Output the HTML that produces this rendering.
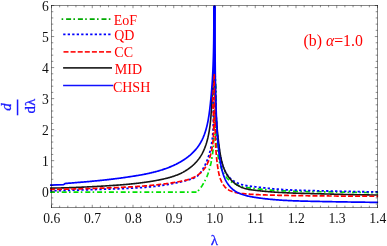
<!DOCTYPE html>
<html><head><meta charset="utf-8"><title>plot</title>
<style>
html,body{margin:0;padding:0;background:#fff;}
svg{display:block;will-change:transform;font-family:"Liberation Serif",serif;}
</style></head><body>
<svg width="387" height="246" viewBox="0 0 387 246">
<rect x="0" y="0" width="387" height="246" fill="#fff"/>
<defs><clipPath id="c"><rect x="49.9" y="5.50" width="328.2" height="202.00"/></clipPath></defs>
<g clip-path="url(#c)" stroke-linejoin="round">
<path d="M49.90 192.10 L196.60 192.10 L196.80 192.34 L197.03 192.11 L197.25 191.87 L197.47 191.63 L197.68 191.39 L197.90 191.15 L198.11 190.91 L198.32 190.67 L198.53 190.43 L198.74 190.18 L198.94 189.94 L199.14 189.69 L199.34 189.45 L199.54 189.20 L199.74 188.95 L199.93 188.70 L200.13 188.45 L200.32 188.20 L200.51 187.95 L200.69 187.69 L200.88 187.44 L201.06 187.18 L201.24 186.93 L201.42 186.67 L201.60 186.41 L201.77 186.16 L201.95 185.90 L202.12 185.64 L202.29 185.38 L202.46 185.11 L202.62 184.85 L202.79 184.59 L202.95 184.32 L203.11 184.06 L203.27 183.79 L203.43 183.53 L203.59 183.26 L203.74 182.99 L203.89 182.72 L204.04 182.45 L204.19 182.18 L204.34 181.91 L204.49 181.64 L204.63 181.37 L204.77 181.10 L204.91 180.82 L205.05 180.55 L205.19 180.27 L205.33 180.00 L205.46 179.72 L205.59 179.45 L205.72 179.17 L205.85 178.89 L205.98 178.61 L206.11 178.33 L206.24 178.05 L206.36 177.77 L206.48 177.49 L206.60 177.21 L206.72 176.92 L206.84 176.64 L206.96 176.36 L207.07 176.07 L207.19 175.79 L207.30 175.50 L207.41 175.22 L207.52 174.93 L207.63 174.64 L207.74 174.36 L207.84 174.07 L207.95 173.78 L208.05 173.49 L208.15 173.20 L208.25 172.91 L208.35 172.62 L208.45 172.33 L208.55 172.04 L208.64 171.75 L208.74 171.45 L208.83 171.16 L208.92 170.87 L209.01 170.57 L209.10 170.28 L209.19 169.99 L209.28 169.69 L209.36 169.40 L209.45 169.10 L209.53 168.80 L209.62 168.51 L209.70 168.21 L209.78 167.91 L209.86 167.62 L209.94 167.32 L210.02 167.02 L210.09 166.72 L210.17 166.42 L210.24 166.13 L210.32 165.83 L210.39 165.53 L210.46 165.23 L210.53 164.93 L210.60 164.63 L210.67 164.32 L210.74 164.02 L210.81 163.72 L210.87 163.42 L210.94 163.12 L211.00 162.82 L211.07 162.51 L211.13 162.21 L211.19 161.91 L211.25 161.61 L211.31 161.30 L211.37 161.00 L211.43 160.70 L211.49 160.39 L211.55 160.09 L211.60 159.78 L211.66 159.48 L211.71 159.18 L211.77 158.87 L211.82 158.57 L211.87 158.26 L211.92 157.95 L211.97 157.65 L212.02 157.34 L212.07 157.04 L212.12 156.73 L212.17 156.42 L212.22 156.12 L212.26 155.81 L212.31 155.50 L212.35 155.20 L212.40 154.89 L212.44 154.58 L212.48 154.27 L212.52 153.97 L212.56 153.66 L212.60 153.35 L212.64 153.04 L212.68 152.73 L212.72 152.42 L212.76 152.11 L212.80 151.80 L212.83 151.50 L212.87 151.19 L212.90 150.88 L212.94 150.57 L212.97 150.26 L213.00 149.95 L213.04 149.64 L213.07 149.33 L213.10 149.01 L213.13 148.70 L213.16 148.39 L213.19 148.08 L213.22 147.77 L213.25 147.46 L213.27 147.15 L213.30 146.84 L213.33 146.52 L213.35 146.21 L213.38 145.90 L213.40 145.59 L213.43 145.28 L213.45 144.96 L213.47 144.65 L213.50 144.34 L213.52 144.03 L213.54 143.71 L213.56 143.40 L213.58 143.09 L213.60 142.77 L213.62 142.46 L213.64 142.15 L213.65 141.83 L213.67 141.52 L213.69 141.20 L213.71 140.89 L213.72 140.58 L213.74 140.26 L213.75 139.95 L213.77 139.63 L213.78 139.32 L213.79 139.00 L213.81 138.69 L213.82 138.37 L213.83 138.06 L213.84 137.74 L213.86 137.43 L213.87 137.11 L213.88 136.80 L213.89 136.48 L213.90 136.17 L213.91 135.85 L213.91 135.54 L213.92 135.22 L213.93 134.91 L213.94 134.59 L213.95 134.27 L213.95 133.96 L213.96 133.64 L213.97 133.33 L213.97 133.01 L213.98 132.69 L213.98 132.38 L213.99 132.06 L213.99 131.74 L213.99 131.43 L214.00 131.11 L214.00 130.80 L214.00 130.48 L214.01 130.16 L214.01 129.85 L214.01 129.53 L214.01 129.21 L214.01 128.90 L214.02 128.58 L214.02 128.26 L214.02 127.94 L214.02 127.63 L214.02 127.31 L214.02 126.99 L214.02 126.68 L214.02 126.36 L214.01 126.04 L214.01 125.73 L214.01 125.41 L214.01 125.09 L214.01 124.77 L214.00 124.46 L214.00 124.14 L214.00 123.82 L214.00 123.50 L213.99 123.19 L213.99 122.87 L213.99 122.55 L213.98 122.24 L213.98 121.92 L213.97 121.60 L213.97 121.28 L213.97 120.97 L213.96 120.65 L213.96 120.33 L213.95 120.01 L213.95 119.70 L213.94 119.38 L213.93 119.06 L213.93 118.75 L213.92 118.43 L213.92 118.11 L213.91 117.79 L213.90 117.48 L213.90 117.16 L213.89 116.84 L213.89 116.53 L213.88 116.21 L213.87 115.89 L213.87 115.58 L213.86 115.26 L213.85 114.94 L213.84 114.62 L213.84 114.31 L213.83 113.99 L213.82 113.67 L213.82 113.36 L213.81 113.04 L213.80 112.72 L213.79 112.41 L213.79 112.09 L213.78 111.77 L213.77 111.46 L213.76 111.14 L213.76 110.83 L213.75 110.51 L213.74 110.19 L213.73 109.88 L213.73 109.56 L213.72 109.24 L213.71 108.93 L213.70 108.61 L213.70 108.30 L213.69 107.98 L213.68 107.67 L213.67 107.35 L213.67 107.04 L213.66 106.72 L213.65 106.40 L213.64 106.09 L213.64 105.77 L213.63 105.46 L213.62 105.14 L213.62 104.83 L213.61 104.51 L213.60 104.20 L213.60 103.89 L213.59 103.57 L213.58 103.26 L213.58 102.94 L213.57 102.63 L213.57 102.31 L213.56 102.00 L213.55 101.69 L213.55 101.37 L213.54 101.06 L213.54 100.75 L213.53 100.43 L213.53 100.12 L213.52 99.81 L213.52 99.49 L213.51 99.18 L213.51 98.87 L213.51 98.55 L213.50 98.24 L213.50 97.93 L213.49 97.62 L213.49 97.30 L213.49 96.99 L213.49 96.68 L213.48 96.37 L213.48 96.06 L213.48 95.75 L213.48 95.43 L213.47 95.12 L213.47 94.81 L213.47 94.50 L213.47 94.19 L213.47 93.88 L213.47 93.57 L213.47 93.26 L213.47 92.95 L213.47 92.64 L213.47 92.33 L213.47 92.02 L213.47 91.71 L213.47 91.40 L213.48 91.09 L213.48 90.78 L213.48 90.47 L213.48 90.17 L213.49 89.86 L213.49 89.55 L213.49 89.24 L213.50 88.93 L213.50 88.63 L213.51 88.32 L213.51 88.01 L213.52 87.70 L213.52 87.40 L213.53 87.09 L213.54 86.78 L213.54 86.48 L213.55 86.17 L213.56 85.87 L213.57 85.56 L213.58 85.25 L213.59 84.95 L213.60 84.64 L213.61 84.34 L213.62 84.03 L213.63 83.73 L213.64 83.42 L213.65 83.12 L213.66 82.82 L213.67 82.51 L213.69 82.21 L213.70 81.91 L213.71 81.60 L213.73 81.30 L213.74 81.00 L213.76 80.70 L213.78 80.39 L213.79 80.09 L213.81 79.79 L213.83 79.49 L213.84 79.19 L213.86 78.89 L213.88 78.59 L213.90 78.28 L213.92 77.98 L213.94 77.68 L213.96 77.38 L213.98 77.09 L214.01 76.79 L214.03 76.49 L214.05 76.19 L214.08 75.89 L214.10 75.59 L214.12 75.29 L214.15 75.00 L214.18 74.70 L214.20 74.40 L214.23 74.10 L214.26 73.81 L214.29 73.51 L214.32 73.21 L214.34 72.92 L214.37 72.62 L214.41 72.33 L214.44 72.03" fill="none" stroke="#00e000" stroke-width="1.7" stroke-dasharray="5 2.3 1.6 2.9"/>
<path d="M214.73 72.02 L214.81 72.68 L214.89 73.35 L214.96 74.02 L215.03 74.68 L215.10 75.35 L215.17 76.01 L215.23 76.67 L215.29 77.34 L215.35 78.00 L215.41 78.66 L215.46 79.33 L215.51 79.99 L215.56 80.65 L215.60 81.31 L215.65 81.97 L215.69 82.64 L215.72 83.30 L215.76 83.96 L215.79 84.62 L215.82 85.28 L215.85 85.94 L215.88 86.60 L215.90 87.26 L215.93 87.92 L215.95 88.58 L215.97 89.23 L215.99 89.89 L216.00 90.55 L216.02 91.21 L216.03 91.87 L216.04 92.52 L216.05 93.18 L216.06 93.84 L216.07 94.50 L216.07 95.15 L216.08 95.81 L216.08 96.47 L216.08 97.12 L216.08 97.78 L216.08 98.44 L216.08 99.09 L216.08 99.75 L216.07 100.41 L216.07 101.06 L216.06 101.72 L216.06 102.37 L216.05 103.03 L216.05 103.69 L216.04 104.34 L216.03 105.00 L216.02 105.65 L216.01 106.31 L216.00 106.96 L215.99 107.62 L215.98 108.28 L215.97 108.93 L215.96 109.59 L215.95 110.24 L215.94 110.90 L215.93 111.55 L215.92 112.21 L215.91 112.86 L215.90 113.52 L215.89 114.18 L215.88 114.83 L215.87 115.49 L215.87 116.14 L215.86 116.80 L215.85 117.46 L215.84 118.11 L215.84 118.77 L215.83 119.42 L215.83 120.08 L215.82 120.74 L215.82 121.39 L215.82 122.05 L215.81 122.71 L215.81 123.36 L215.81 124.02 L215.82 124.68 L215.82 125.34 L215.82 125.99 L215.83 126.65 L215.83 127.31 L215.84 127.97 L215.85 128.63 L215.86 129.28 L215.88 129.94 L215.89 130.60 L215.90 131.26 L215.92 131.92 L215.94 132.58 L215.96 133.24 L215.99 133.90 L216.01 134.56 L216.04 135.22 L216.07 135.88 L216.10 136.54 L216.13 137.21 L216.16 137.87 L216.20 138.53 L216.24 139.19 L216.28 139.86 L216.33 140.52 L216.37 141.18 L216.42 141.85 L216.48 142.51 L216.53 143.17 L216.59 143.84 L216.65 144.50 L216.71 145.17 L216.78 145.84 L216.85 146.50 L216.92 147.17 L216.99 147.84 L217.07 148.50 L217.15 149.17 L217.23 149.84 L217.32 150.51 L217.41 151.18 L217.51 151.85 L217.60 152.52 L217.70 153.19 L217.81 153.86 L217.92 154.53 L218.03 155.20 L218.14 155.87 L218.26 156.55 L218.38 157.22 L218.51 157.89 L218.64 158.56 L218.78 159.23 L218.92 159.90 L219.07 160.56 L219.22 161.23 L219.38 161.89 L219.55 162.55 L219.72 163.21 L219.90 163.86 L220.08 164.51 L220.27 165.15 L220.47 165.80 L220.68 166.43 L220.89 167.06 L221.11 167.69 L221.35 168.31 L221.58 168.93 L221.83 169.53 L222.09 170.14 L222.35 170.73 L222.63 171.32 L222.91 171.90 L223.21 172.47 L223.51 173.04 L223.83 173.60 L224.15 174.14 L224.49 174.68 L224.84 175.21 L225.20 175.73 L225.57 176.24 L225.95 176.74 L226.34 177.23 L226.75 177.71 L227.17 178.18 L227.60 178.63 L228.04 179.08 L228.49 179.51 L228.95 179.94 L229.42 180.35 L229.91 180.75 L230.40 181.13 L230.91 181.51 L231.42 181.87 L231.94 182.23 L232.48 182.57 L233.02 182.89 L233.57 183.21 L234.13 183.51 L234.70 183.80 L235.27 184.08 L235.86 184.35 L236.45 184.61 L237.04 184.86 L237.65 185.10 L238.25 185.32 L238.87 185.54 L239.49 185.75 L240.11 185.94 L240.74 186.13 L241.37 186.31 L242.01 186.48 L242.64 186.64 L243.28 186.80 L243.93 186.94 L244.57 187.08 L245.22 187.21 L245.87 187.34 L246.52 187.46 L247.18 187.57 L247.83 187.67 L248.49 187.78 L249.15 187.87 L249.80 187.96 L250.46 188.05 L251.12 188.14 L251.78 188.22 L252.45 188.30 L253.11 188.37 L253.77 188.45 L254.43 188.52 L255.09 188.59 L255.75 188.66 L256.41 188.73 L257.07 188.80 L257.73 188.87 L258.39 188.93 L259.05 189.00 L259.71 189.07 L260.37 189.14 L261.02 189.20 L261.68 189.27 L262.34 189.33 L263.00 189.40 L263.65 189.46 L264.31 189.52 L264.96 189.59 L265.62 189.65 L266.28 189.70 L266.93 189.76 L267.59 189.82 L268.25 189.88 L268.90 189.93 L269.56 189.98 L270.22 190.04 L270.87 190.09 L271.53 190.14 L272.19 190.19 L272.84 190.23 L273.50 190.28 L274.16 190.32 L274.82 190.37 L275.47 190.41 L276.13 190.45 L276.79 190.49 L277.45 190.53 L278.11 190.57 L278.76 190.61 L279.42 190.65 L280.08 190.68 L280.74 190.72 L281.40 190.75 L282.06 190.79 L282.71 190.82 L283.37 190.85 L284.03 190.88 L284.69 190.91 L285.35 190.94 L286.01 190.97 L286.67 190.99 L287.33 191.02 L287.99 191.04 L288.65 191.07 L289.31 191.09 L289.97 191.12 L290.63 191.14 L291.29 191.16 L291.95 191.18 L292.61 191.20 L293.27 191.22 L293.93 191.24 L294.59 191.26 L295.25 191.28 L295.91 191.30 L296.57 191.32 L297.23 191.33 L297.89 191.35 L298.55 191.37 L299.21 191.38 L299.87 191.40 L300.53 191.41 L301.19 191.42 L301.85 191.44 L302.51 191.45 L303.17 191.47 L303.83 191.48 L304.49 191.49 L305.15 191.50 L305.81 191.52 L306.47 191.53 L307.13 191.54 L307.79 191.55 L308.45 191.56 L309.11 191.57 L309.77 191.58 L310.44 191.59 L311.10 191.60 L311.76 191.61 L312.42 191.62 L313.08 191.63 L313.74 191.64 L314.40 191.65 L315.06 191.66 L315.72 191.68 L316.38 191.69 L317.04 191.70 L317.70 191.71 L318.36 191.72 L319.02 191.73 L319.68 191.74 L320.34 191.75 L321.00 191.76 L321.67 191.77 L322.33 191.78 L322.99 191.79 L323.65 191.80 L324.31 191.81 L324.97 191.83 L325.63 191.84 L326.29 191.85 L326.95 191.86 L327.61 191.87 L328.27 191.88 L328.93 191.90 L329.59 191.91 L330.25 191.92 L330.91 191.93 L331.57 191.94 L332.23 191.96 L332.89 191.97 L333.55 191.98 L334.21 191.99 L334.87 192.00 L335.53 192.02 L336.19 192.03 L336.85 192.04 L337.51 192.05 L338.17 192.07 L338.83 192.08 L339.49 192.09 L340.15 192.10 L340.81 192.12 L341.47 192.13 L342.13 192.14 L342.79 192.15 L343.45 192.16 L344.11 192.18 L344.77 192.19 L345.43 192.20 L346.09 192.21 L346.75 192.22 L347.41 192.23 L348.07 192.25 L348.73 192.26 L349.39 192.27 L350.05 192.28 L350.71 192.29 L351.37 192.30 L352.03 192.31 L352.69 192.32 L353.35 192.33 L354.01 192.35 L354.67 192.36 L355.33 192.37 L355.99 192.38 L356.65 192.39 L357.31 192.40 L357.97 192.41 L358.63 192.41 L359.29 192.42 L359.95 192.43 L360.61 192.44 L361.27 192.45 L361.93 192.46 L362.59 192.47 L363.25 192.48 L363.91 192.48 L364.57 192.49 L365.23 192.50 L365.89 192.51 L366.55 192.51 L367.21 192.52 L367.87 192.53 L368.53 192.53 L369.19 192.54 L369.85 192.54 L370.51 192.55 L371.17 192.55 L371.83 192.56 L372.50 192.56 L373.16 192.57 L373.82 192.57 L374.48 192.58 L375.14 192.58 L375.80 192.58 L376.46 192.58 L377.12 192.59 L377.78 192.59 L378.44 192.59 L379.10 192.59" fill="none" stroke="#00e000" stroke-width="1.7" stroke-dasharray="5 2.3 1.6 2.9"/>
<path d="M49.89 190.67 L50.54 190.66 L51.18 190.66 L51.83 190.65 L52.47 190.64 L53.12 190.63 L53.76 190.62 L54.41 190.61 L55.05 190.60 L55.70 190.59 L56.34 190.58 L56.98 190.57 L57.63 190.56 L58.27 190.55 L58.92 190.54 L59.56 190.53 L60.21 190.51 L60.85 190.50 L61.49 190.49 L62.14 190.47 L62.78 190.46 L63.43 190.45 L64.07 190.43 L64.71 190.42 L65.36 190.40 L66.00 190.39 L66.64 190.37 L67.29 190.35 L67.93 190.34 L68.57 190.32 L69.22 190.31 L69.86 190.29 L70.50 190.27 L71.15 190.25 L71.79 190.24 L72.43 190.22 L73.08 190.20 L73.72 190.18 L74.36 190.16 L75.01 190.15 L75.65 190.13 L76.29 190.11 L76.94 190.09 L77.58 190.07 L78.22 190.05 L78.87 190.03 L79.51 190.01 L80.15 189.99 L80.80 189.97 L81.44 189.95 L82.08 189.93 L82.72 189.91 L83.37 189.89 L84.01 189.87 L84.65 189.85 L85.30 189.83 L85.94 189.81 L86.58 189.79 L87.23 189.76 L87.87 189.74 L88.51 189.72 L89.15 189.70 L89.80 189.68 L90.44 189.66 L91.08 189.64 L91.73 189.61 L92.37 189.59 L93.01 189.57 L93.66 189.55 L94.30 189.53 L94.94 189.51 L95.59 189.49 L96.23 189.46 L96.87 189.44 L97.51 189.42 L98.16 189.40 L98.80 189.38 L99.44 189.36 L100.09 189.34 L100.73 189.31 L101.37 189.29 L102.02 189.27 L102.66 189.25 L103.31 189.23 L103.95 189.21 L104.59 189.19 L105.24 189.17 L105.88 189.15 L106.52 189.13 L107.17 189.11 L107.81 189.09 L108.46 189.07 L109.10 189.04 L109.74 189.02 L110.39 189.00 L111.03 188.98 L111.68 188.96 L112.32 188.94 L112.96 188.92 L113.61 188.90 L114.25 188.88 L114.90 188.86 L115.54 188.84 L116.19 188.82 L116.83 188.80 L117.47 188.77 L118.12 188.75 L118.76 188.73 L119.41 188.71 L120.05 188.68 L120.69 188.66 L121.34 188.64 L121.98 188.61 L122.63 188.59 L123.27 188.56 L123.91 188.54 L124.56 188.51 L125.20 188.48 L125.85 188.46 L126.49 188.43 L127.13 188.40 L127.78 188.37 L128.42 188.34 L129.06 188.31 L129.71 188.28 L130.35 188.25 L131.00 188.22 L131.64 188.19 L132.28 188.15 L132.92 188.12 L133.57 188.08 L134.21 188.05 L134.85 188.01 L135.50 187.97 L136.14 187.94 L136.78 187.90 L137.42 187.86 L138.07 187.81 L138.71 187.77 L139.35 187.73 L139.99 187.69 L140.64 187.64 L141.28 187.59 L141.92 187.55 L142.56 187.50 L143.20 187.45 L143.84 187.40 L144.49 187.35 L145.13 187.29 L145.77 187.24 L146.41 187.18 L147.05 187.13 L147.69 187.07 L148.33 187.01 L148.97 186.95 L149.61 186.89 L150.25 186.83 L150.89 186.76 L151.53 186.70 L152.17 186.63 L152.81 186.56 L153.45 186.49 L154.09 186.42 L154.73 186.35 L155.37 186.27 L156.00 186.20 L156.64 186.12 L157.28 186.04 L157.92 185.96 L158.56 185.88 L159.19 185.79 L159.83 185.71 L160.47 185.62 L161.10 185.53 L161.74 185.44 L162.38 185.35 L163.01 185.25 L163.65 185.15 L164.29 185.06 L164.92 184.96 L165.56 184.86 L166.19 184.75 L166.83 184.65 L167.46 184.54 L168.10 184.43 L168.73 184.32 L169.36 184.21 L170.00 184.09 L170.63 183.97 L171.26 183.86 L171.90 183.74 L172.53 183.61 L173.16 183.49 L173.79 183.37 L174.42 183.24 L175.06 183.11 L175.69 182.98 L176.32 182.85 L176.95 182.71 L177.58 182.58 L178.21 182.44 L178.84 182.30 L179.47 182.16 L180.09 182.02 L180.72 181.88 L181.35 181.73 L181.98 181.58 L182.60 181.43 L183.23 181.28 L183.85 181.12 L184.48 180.96 L185.10 180.80 L185.73 180.63 L186.35 180.46 L186.97 180.29 L187.60 180.12 L188.22 179.94 L188.84 179.76 L189.46 179.57 L190.07 179.38 L190.69 179.18 L191.30 178.98 L191.91 178.76 L192.51 178.54 L193.11 178.30 L193.69 178.06 L194.27 177.80 L194.84 177.52 L195.40 177.23 L195.94 176.92 L196.47 176.59 L196.99 176.24 L197.49 175.87 L197.97 175.48 L198.44 175.06 L198.89 174.63 L199.32 174.17 L199.74 173.69 L200.15 173.20 L200.54 172.69 L200.92 172.17 L201.29 171.64 L201.65 171.09 L202.00 170.55 L202.35 170.00 L202.68 169.44 L203.01 168.88 L203.34 168.32 L203.65 167.76 L203.96 167.19 L204.26 166.62 L204.56 166.05 L204.85 165.48 L205.14 164.91 L205.41 164.33 L205.68 163.75 L205.95 163.17 L206.21 162.58 L206.46 162.00 L206.71 161.41 L206.95 160.82 L207.19 160.23 L207.42 159.63 L207.65 159.04 L207.87 158.44 L208.08 157.84 L208.29 157.23 L208.49 156.63 L208.69 156.02 L208.88 155.42 L209.07 154.81 L209.25 154.19 L209.43 153.58 L209.60 152.97 L209.77 152.35 L209.93 151.73 L210.09 151.11 L210.25 150.49 L210.40 149.87 L210.54 149.24 L210.68 148.62 L210.82 147.99 L210.95 147.36 L211.07 146.73 L211.20 146.10 L211.31 145.46 L211.43 144.83 L211.54 144.19 L211.65 143.56 L211.75 142.92 L211.85 142.28 L211.94 141.64 L212.03 141.00 L212.12 140.35 L212.21 139.71 L212.29 139.06 L212.36 138.42 L212.44 137.77 L212.51 137.12 L212.57 136.47 L212.64 135.82 L212.70 135.17 L212.76 134.52 L212.81 133.87 L212.86 133.21 L212.91 132.56 L212.96 131.91 L213.00 131.25 L213.04 130.59 L213.08 129.94 L213.12 129.28 L213.15 128.62 L213.18 127.96 L213.21 127.30 L213.24 126.65 L213.26 125.99 L213.28 125.33 L213.30 124.66 L213.32 124.00 L213.34 123.34 L213.35 122.68 L213.37 122.02 L213.38 121.36 L213.39 120.69 L213.39 120.03 L213.40 119.37 L213.40 118.71 L213.41 118.04 L213.41 117.38 L213.41 116.72 L213.41 116.05 L213.41 115.39 L213.41 114.73 L213.40 114.07 L213.40 113.40 L213.39 112.74 L213.38 112.08 L213.38 111.42 L213.37 110.75 L213.36 110.09 L213.35 109.43 L213.34 108.77 L213.33 108.11 L213.32 107.45 L213.31 106.79 L213.30 106.13 L213.29 105.47 L213.28 104.81 L213.27 104.15 L213.26 103.50 L213.25 102.84 L213.24 102.18 L213.23 101.53 L213.22 100.87 L213.21 100.22 L213.20 99.57 L213.19 98.91 L213.18 98.26 L213.17 97.61 L213.17 96.96 L213.16 96.31 L213.15 95.66 L213.15 95.02 L213.15 94.37 L213.14 93.73 L213.14 93.08 L213.14 92.44 L213.14 91.80 L213.15 91.16 L213.15 90.52 L213.16 89.88 L213.16 89.24 L213.17 88.61 L213.18 87.97 L213.19 87.34 L213.20 86.71 L213.22 86.08 L213.24 85.45 L213.26 84.82 L213.28 84.19 L213.30 83.57 L213.33 82.95 L213.35 82.32 L213.38 81.70 L213.41 81.09 L213.45 80.47 L213.49 79.85 L213.53 79.24 L213.57 78.63 L213.61 78.02 L213.66 77.41 L213.71 76.81 L213.76 76.20 L213.82 75.60 L213.88 75.00 L213.94 74.40 L214.01 73.80 L214.08 73.21 L214.15 72.62 L214.22 72.03" fill="none" stroke="#0000ff" stroke-width="1.8" stroke-dasharray="2.3 2.2"/>
<path d="M214.66 71.96 L214.70 72.64 L214.73 73.32 L214.76 73.99 L214.80 74.66 L214.83 75.34 L214.86 76.01 L214.89 76.68 L214.92 77.35 L214.95 78.02 L214.97 78.68 L215.00 79.35 L215.03 80.01 L215.05 80.68 L215.07 81.34 L215.10 82.00 L215.12 82.66 L215.14 83.32 L215.17 83.98 L215.19 84.64 L215.21 85.30 L215.23 85.96 L215.25 86.61 L215.27 87.27 L215.29 87.92 L215.31 88.58 L215.33 89.23 L215.34 89.88 L215.36 90.53 L215.38 91.18 L215.40 91.83 L215.41 92.48 L215.43 93.13 L215.45 93.78 L215.46 94.43 L215.48 95.08 L215.50 95.72 L215.51 96.37 L215.53 97.01 L215.55 97.66 L215.56 98.30 L215.58 98.95 L215.60 99.59 L215.61 100.24 L215.63 100.88 L215.65 101.52 L215.66 102.16 L215.68 102.81 L215.70 103.45 L215.72 104.09 L215.73 104.73 L215.75 105.37 L215.77 106.01 L215.79 106.65 L215.81 107.29 L215.83 107.93 L215.85 108.57 L215.87 109.21 L215.89 109.85 L215.92 110.49 L215.94 111.13 L215.96 111.77 L215.99 112.41 L216.01 113.04 L216.04 113.68 L216.06 114.32 L216.09 114.96 L216.12 115.60 L216.14 116.24 L216.17 116.88 L216.20 117.52 L216.23 118.16 L216.27 118.80 L216.30 119.44 L216.33 120.08 L216.37 120.72 L216.40 121.36 L216.44 122.00 L216.48 122.64 L216.51 123.28 L216.55 123.92 L216.60 124.56 L216.64 125.20 L216.68 125.84 L216.73 126.49 L216.77 127.13 L216.82 127.77 L216.87 128.42 L216.92 129.06 L216.97 129.70 L217.02 130.35 L217.07 131.00 L217.13 131.64 L217.19 132.29 L217.24 132.93 L217.30 133.58 L217.36 134.23 L217.43 134.88 L217.49 135.53 L217.56 136.18 L217.63 136.83 L217.70 137.48 L217.77 138.13 L217.84 138.79 L217.91 139.44 L217.99 140.09 L218.07 140.75 L218.15 141.40 L218.23 142.06 L218.32 142.72 L218.40 143.38 L218.49 144.04 L218.58 144.70 L218.67 145.36 L218.77 146.02 L218.86 146.68 L218.96 147.35 L219.06 148.01 L219.16 148.68 L219.27 149.34 L219.37 150.01 L219.48 150.68 L219.59 151.35 L219.71 152.02 L219.82 152.69 L219.94 153.37 L220.06 154.04 L220.18 154.71 L220.31 155.39 L220.44 156.07 L220.57 156.74 L220.71 157.41 L220.85 158.09 L221.00 158.76 L221.14 159.43 L221.30 160.10 L221.46 160.76 L221.62 161.43 L221.79 162.09 L221.97 162.74 L222.15 163.39 L222.34 164.04 L222.54 164.69 L222.74 165.33 L222.95 165.96 L223.17 166.59 L223.39 167.21 L223.62 167.83 L223.86 168.44 L224.11 169.04 L224.37 169.64 L224.64 170.23 L224.91 170.81 L225.20 171.38 L225.50 171.95 L225.80 172.50 L226.12 173.05 L226.44 173.58 L226.78 174.11 L227.13 174.63 L227.49 175.13 L227.86 175.63 L228.25 176.11 L228.64 176.58 L229.05 177.04 L229.47 177.49 L229.90 177.92 L230.35 178.35 L230.80 178.76 L231.27 179.16 L231.75 179.54 L232.24 179.92 L232.74 180.28 L233.25 180.64 L233.77 180.98 L234.29 181.31 L234.83 181.63 L235.37 181.93 L235.93 182.23 L236.49 182.51 L237.06 182.79 L237.63 183.05 L238.21 183.30 L238.80 183.54 L239.39 183.77 L239.99 183.99 L240.60 184.20 L241.21 184.40 L241.82 184.58 L242.44 184.76 L243.07 184.93 L243.69 185.09 L244.32 185.23 L244.96 185.37 L245.59 185.50 L246.23 185.63 L246.87 185.74 L247.51 185.85 L248.16 185.95 L248.81 186.05 L249.46 186.14 L250.11 186.23 L250.76 186.31 L251.41 186.39 L252.06 186.47 L252.72 186.54 L253.37 186.62 L254.03 186.69 L254.68 186.76 L255.33 186.83 L255.99 186.90 L256.64 186.98 L257.29 187.05 L257.94 187.12 L258.59 187.20 L259.24 187.28 L259.89 187.35 L260.54 187.43 L261.19 187.51 L261.84 187.58 L262.49 187.66 L263.14 187.74 L263.78 187.82 L264.43 187.89 L265.08 187.97 L265.73 188.04 L266.37 188.12 L267.02 188.19 L267.67 188.26 L268.31 188.33 L268.96 188.40 L269.61 188.47 L270.26 188.54 L270.91 188.60 L271.55 188.66 L272.20 188.73 L272.85 188.79 L273.50 188.85 L274.15 188.90 L274.80 188.96 L275.44 189.02 L276.09 189.07 L276.74 189.12 L277.39 189.17 L278.04 189.23 L278.69 189.27 L279.34 189.32 L279.99 189.37 L280.64 189.42 L281.29 189.46 L281.94 189.50 L282.59 189.55 L283.24 189.59 L283.89 189.63 L284.54 189.67 L285.19 189.71 L285.84 189.74 L286.49 189.78 L287.14 189.82 L287.79 189.85 L288.45 189.88 L289.10 189.92 L289.75 189.95 L290.40 189.98 L291.05 190.01 L291.70 190.04 L292.35 190.07 L293.00 190.10 L293.66 190.13 L294.31 190.15 L294.96 190.18 L295.61 190.20 L296.26 190.23 L296.92 190.25 L297.57 190.27 L298.22 190.30 L298.87 190.32 L299.52 190.34 L300.18 190.36 L300.83 190.38 L301.48 190.40 L302.13 190.42 L302.79 190.44 L303.44 190.46 L304.09 190.48 L304.74 190.50 L305.39 190.51 L306.05 190.53 L306.70 190.55 L307.35 190.56 L308.00 190.58 L308.66 190.59 L309.31 190.61 L309.96 190.62 L310.62 190.64 L311.27 190.65 L311.92 190.67 L312.57 190.68 L313.23 190.70 L313.88 190.71 L314.53 190.72 L315.18 190.74 L315.84 190.75 L316.49 190.77 L317.14 190.78 L317.79 190.79 L318.45 190.81 L319.10 190.82 L319.75 190.83 L320.40 190.85 L321.06 190.86 L321.71 190.87 L322.36 190.89 L323.01 190.90 L323.67 190.92 L324.32 190.93 L324.97 190.94 L325.62 190.96 L326.28 190.97 L326.93 190.99 L327.58 191.00 L328.23 191.01 L328.88 191.03 L329.54 191.04 L330.19 191.06 L330.84 191.07 L331.49 191.08 L332.14 191.10 L332.80 191.11 L333.45 191.13 L334.10 191.14 L334.75 191.16 L335.40 191.17 L336.06 191.18 L336.71 191.20 L337.36 191.21 L338.01 191.23 L338.66 191.24 L339.32 191.26 L339.97 191.27 L340.62 191.28 L341.27 191.30 L341.92 191.31 L342.58 191.33 L343.23 191.34 L343.88 191.36 L344.53 191.37 L345.18 191.38 L345.84 191.40 L346.49 191.41 L347.14 191.43 L347.79 191.44 L348.44 191.45 L349.10 191.47 L349.75 191.48 L350.40 191.49 L351.05 191.51 L351.70 191.52 L352.36 191.53 L353.01 191.55 L353.66 191.56 L354.31 191.57 L354.96 191.59 L355.62 191.60 L356.27 191.61 L356.92 191.63 L357.57 191.64 L358.22 191.65 L358.88 191.67 L359.53 191.68 L360.18 191.69 L360.83 191.70 L361.49 191.72 L362.14 191.73 L362.79 191.74 L363.44 191.75 L364.09 191.76 L364.75 191.78 L365.40 191.79 L366.05 191.80 L366.70 191.81 L367.36 191.82 L368.01 191.83 L368.66 191.84 L369.31 191.85 L369.97 191.87 L370.62 191.88 L371.27 191.89 L371.92 191.90 L372.58 191.91 L373.23 191.92 L373.88 191.93 L374.53 191.94 L375.19 191.95 L375.84 191.96 L376.49 191.97 L377.14 191.97 L377.80 191.98 L378.45 191.99 L379.10 192.00" fill="none" stroke="#0000ff" stroke-width="1.8" stroke-dasharray="2.3 2.2"/>
<path d="M49.90 188.18 L50.52 188.17 L51.13 188.16 L51.74 188.15 L52.36 188.13 L52.97 188.12 L53.59 188.11 L54.20 188.10 L54.81 188.08 L55.43 188.07 L56.04 188.05 L56.66 188.04 L57.27 188.02 L57.89 188.01 L58.50 187.99 L59.11 187.98 L59.73 187.96 L60.34 187.94 L60.96 187.93 L61.57 187.91 L62.19 187.89 L62.80 187.87 L63.41 187.86 L64.03 187.84 L64.64 187.82 L65.26 187.80 L65.87 187.78 L66.48 187.76 L67.10 187.74 L67.71 187.72 L68.33 187.70 L68.94 187.68 L69.56 187.66 L70.17 187.64 L70.78 187.61 L71.40 187.59 L72.01 187.57 L72.63 187.55 L73.24 187.52 L73.86 187.50 L74.47 187.48 L75.08 187.45 L75.70 187.43 L76.31 187.40 L76.93 187.38 L77.54 187.35 L78.15 187.33 L78.77 187.30 L79.38 187.28 L80.00 187.25 L80.61 187.22 L81.23 187.20 L81.84 187.17 L82.45 187.14 L83.07 187.11 L83.68 187.09 L84.30 187.06 L84.91 187.03 L85.52 187.00 L86.14 186.97 L86.75 186.94 L87.37 186.91 L87.98 186.88 L88.59 186.85 L89.21 186.82 L89.82 186.79 L90.44 186.76 L91.05 186.73 L91.66 186.70 L92.28 186.67 L92.89 186.63 L93.51 186.60 L94.12 186.57 L94.73 186.54 L95.35 186.50 L95.96 186.47 L96.57 186.43 L97.19 186.40 L97.80 186.37 L98.42 186.33 L99.03 186.30 L99.64 186.26 L100.26 186.23 L100.87 186.19 L101.48 186.15 L102.10 186.12 L102.71 186.08 L103.32 186.05 L103.94 186.01 L104.55 185.97 L105.16 185.93 L105.78 185.90 L106.39 185.86 L107.00 185.82 L107.62 185.78 L108.23 185.74 L108.84 185.70 L109.46 185.66 L110.07 185.63 L110.68 185.59 L111.30 185.55 L111.91 185.50 L112.52 185.46 L113.14 185.42 L113.75 185.38 L114.36 185.34 L114.98 185.30 L115.59 185.25 L116.20 185.21 L116.81 185.17 L117.43 185.12 L118.04 185.08 L118.65 185.03 L119.27 184.99 L119.88 184.94 L120.49 184.89 L121.10 184.84 L121.71 184.80 L122.33 184.75 L122.94 184.70 L123.55 184.65 L124.16 184.60 L124.78 184.54 L125.39 184.49 L126.00 184.44 L126.61 184.38 L127.22 184.33 L127.83 184.27 L128.45 184.22 L129.06 184.16 L129.67 184.10 L130.28 184.04 L130.89 183.98 L131.50 183.92 L132.11 183.86 L132.72 183.80 L133.33 183.73 L133.95 183.67 L134.56 183.60 L135.17 183.54 L135.78 183.47 L136.39 183.40 L137.00 183.33 L137.61 183.26 L138.22 183.19 L138.83 183.12 L139.44 183.04 L140.05 182.97 L140.66 182.89 L141.26 182.82 L141.87 182.74 L142.48 182.66 L143.09 182.58 L143.70 182.49 L144.31 182.41 L144.92 182.33 L145.53 182.24 L146.13 182.15 L146.74 182.06 L147.35 181.97 L147.96 181.88 L148.57 181.79 L149.17 181.69 L149.78 181.60 L150.39 181.50 L151.00 181.40 L151.60 181.30 L152.21 181.20 L152.82 181.10 L153.42 180.99 L154.03 180.89 L154.64 180.78 L155.24 180.67 L155.85 180.56 L156.45 180.45 L157.06 180.33 L157.66 180.22 L158.27 180.10 L158.87 179.98 L159.48 179.86 L160.08 179.74 L160.69 179.62 L161.29 179.49 L161.90 179.36 L162.50 179.23 L163.10 179.10 L163.71 178.97 L164.31 178.83 L164.91 178.69 L165.51 178.55 L166.11 178.40 L166.71 178.25 L167.30 178.10 L167.90 177.95 L168.49 177.79 L169.09 177.63 L169.68 177.46 L170.27 177.29 L170.86 177.12 L171.45 176.94 L172.03 176.76 L172.62 176.57 L173.20 176.38 L173.78 176.19 L174.36 175.99 L174.94 175.79 L175.51 175.58 L176.08 175.37 L176.65 175.15 L177.22 174.92 L177.79 174.69 L178.35 174.46 L178.91 174.22 L179.47 173.97 L180.02 173.72 L180.57 173.46 L181.12 173.20 L181.67 172.92 L182.21 172.65 L182.75 172.37 L183.29 172.08 L183.82 171.78 L184.35 171.48 L184.88 171.18 L185.40 170.87 L185.92 170.55 L186.43 170.23 L186.94 169.90 L187.45 169.56 L187.95 169.22 L188.44 168.87 L188.94 168.52 L189.43 168.16 L189.91 167.80 L190.39 167.43 L190.86 167.06 L191.33 166.68 L191.80 166.29 L192.26 165.90 L192.71 165.50 L193.16 165.10 L193.60 164.69 L194.04 164.28 L194.47 163.86 L194.90 163.43 L195.32 163.00 L195.73 162.57 L196.14 162.13 L196.54 161.68 L196.94 161.23 L197.32 160.77 L197.71 160.31 L198.08 159.84 L198.45 159.37 L198.82 158.89 L199.17 158.40 L199.52 157.91 L199.86 157.42 L200.20 156.92 L200.53 156.42 L200.85 155.91 L201.16 155.39 L201.47 154.87 L201.76 154.35 L202.06 153.82 L202.34 153.29 L202.62 152.75 L202.90 152.21 L203.16 151.66 L203.42 151.11 L203.68 150.56 L203.93 150.00 L204.17 149.44 L204.40 148.87 L204.64 148.30 L204.86 147.73 L205.08 147.16 L205.29 146.58 L205.50 146.00 L205.70 145.42 L205.90 144.83 L206.10 144.24 L206.28 143.65 L206.47 143.06 L206.64 142.47 L206.82 141.87 L206.99 141.27 L207.15 140.67 L207.31 140.07 L207.46 139.46 L207.62 138.86 L207.76 138.25 L207.91 137.64 L208.04 137.03 L208.18 136.42 L208.31 135.81 L208.44 135.20 L208.56 134.59 L208.68 133.98 L208.80 133.36 L208.91 132.75 L209.02 132.14 L209.13 131.52 L209.24 130.91 L209.34 130.29 L209.43 129.68 L209.53 129.06 L209.62 128.45 L209.71 127.83 L209.80 127.21 L209.88 126.60 L209.96 125.98 L210.04 125.36 L210.12 124.74 L210.19 124.12 L210.26 123.51 L210.33 122.89 L210.40 122.27 L210.46 121.65 L210.52 121.03 L210.58 120.41 L210.64 119.79 L210.70 119.17 L210.75 118.55 L210.81 117.93 L210.86 117.31 L210.91 116.69 L210.96 116.07 L211.00 115.45 L211.05 114.83 L211.09 114.21 L211.13 113.59 L211.17 112.97 L211.21 112.35 L211.25 111.73 L211.29 111.11 L211.32 110.49 L211.36 109.87 L211.39 109.25 L211.43 108.63 L211.46 108.01 L211.49 107.39 L211.53 106.77 L211.56 106.15 L211.59 105.53 L211.62 104.92 L211.65 104.30 L211.68 103.68 L211.71 103.06 L211.74 102.44 L211.76 101.82 L211.79 101.21 L211.82 100.59 L211.85 99.97 L211.88 99.36 L211.91 98.74 L211.94 98.12 L211.97 97.51 L212.00 96.89 L212.03 96.28 L212.06 95.66 L212.10 95.05 L212.13 94.44 L212.16 93.82 L212.20 93.21 L212.23 92.60 L212.27 91.99 L212.31 91.37 L212.34 90.76 L212.38 90.15 L212.43 89.54 L212.47 88.93 L212.51 88.33 L212.56 87.72 L212.60 87.11 L212.65 86.50 L212.70 85.90 L212.75 85.29 L212.80 84.69 L212.86 84.08 L212.91 83.48 L212.97 82.88 L213.03 82.27 L213.09 81.67 L213.16 81.07 L213.22 80.47 L213.29 79.87 L213.36 79.27 L213.44 78.67 L213.51 78.08 L213.59 77.48 L213.67 76.89 L213.76 76.29 L213.84 75.70 L213.93 75.10 L214.02 74.51 L214.12 73.92 L214.21 73.33 L214.31 72.74 L214.42 72.15" fill="none" stroke="#151515" stroke-width="1.6"/>
<path d="M214.73 71.95 L214.74 72.63 L214.76 73.32 L214.77 74.00 L214.78 74.69 L214.79 75.37 L214.80 76.05 L214.81 76.73 L214.83 77.41 L214.84 78.08 L214.85 78.76 L214.86 79.43 L214.88 80.10 L214.89 80.77 L214.90 81.44 L214.92 82.11 L214.93 82.78 L214.95 83.45 L214.96 84.11 L214.98 84.78 L214.99 85.44 L215.01 86.10 L215.02 86.76 L215.04 87.42 L215.05 88.08 L215.07 88.74 L215.09 89.40 L215.11 90.06 L215.12 90.71 L215.14 91.37 L215.16 92.02 L215.18 92.68 L215.20 93.33 L215.22 93.98 L215.24 94.63 L215.26 95.28 L215.28 95.93 L215.30 96.58 L215.32 97.23 L215.35 97.88 L215.37 98.53 L215.39 99.17 L215.42 99.82 L215.44 100.46 L215.47 101.11 L215.49 101.75 L215.52 102.40 L215.55 103.04 L215.57 103.69 L215.60 104.33 L215.63 104.97 L215.66 105.62 L215.69 106.26 L215.72 106.90 L215.75 107.54 L215.78 108.18 L215.81 108.83 L215.85 109.47 L215.88 110.11 L215.91 110.75 L215.95 111.39 L215.98 112.03 L216.02 112.67 L216.06 113.31 L216.10 113.95 L216.13 114.59 L216.17 115.24 L216.21 115.88 L216.25 116.52 L216.30 117.16 L216.34 117.80 L216.38 118.44 L216.43 119.08 L216.47 119.72 L216.52 120.37 L216.56 121.01 L216.61 121.65 L216.66 122.29 L216.71 122.94 L216.76 123.58 L216.81 124.22 L216.86 124.87 L216.91 125.51 L216.97 126.16 L217.02 126.80 L217.08 127.45 L217.13 128.10 L217.19 128.74 L217.25 129.39 L217.31 130.04 L217.37 130.69 L217.43 131.34 L217.49 131.99 L217.56 132.64 L217.62 133.29 L217.69 133.94 L217.75 134.59 L217.82 135.25 L217.89 135.90 L217.96 136.56 L218.03 137.21 L218.10 137.87 L218.17 138.53 L218.25 139.19 L218.32 139.85 L218.40 140.51 L218.48 141.17 L218.56 141.83 L218.64 142.50 L218.72 143.16 L218.80 143.83 L218.88 144.49 L218.97 145.16 L219.05 145.83 L219.14 146.50 L219.23 147.17 L219.32 147.84 L219.41 148.52 L219.50 149.19 L219.60 149.87 L219.70 150.54 L219.80 151.22 L219.90 151.89 L220.00 152.57 L220.11 153.24 L220.22 153.92 L220.34 154.59 L220.45 155.26 L220.58 155.94 L220.70 156.61 L220.83 157.28 L220.97 157.94 L221.10 158.61 L221.25 159.27 L221.40 159.93 L221.55 160.59 L221.71 161.25 L221.88 161.90 L222.05 162.55 L222.22 163.20 L222.41 163.84 L222.60 164.48 L222.79 165.12 L223.00 165.75 L223.21 166.38 L223.42 167.00 L223.65 167.62 L223.88 168.24 L224.12 168.85 L224.37 169.45 L224.63 170.05 L224.90 170.65 L225.17 171.24 L225.45 171.82 L225.75 172.40 L226.05 172.97 L226.36 173.54 L226.68 174.09 L227.01 174.65 L227.35 175.19 L227.71 175.73 L228.07 176.26 L228.44 176.78 L228.82 177.30 L229.21 177.81 L229.61 178.31 L230.02 178.80 L230.44 179.28 L230.87 179.75 L231.31 180.22 L231.76 180.68 L232.21 181.12 L232.68 181.56 L233.15 181.99 L233.63 182.41 L234.12 182.82 L234.62 183.22 L235.12 183.61 L235.63 183.98 L236.15 184.35 L236.68 184.71 L237.22 185.05 L237.76 185.39 L238.31 185.71 L238.87 186.02 L239.43 186.32 L240.00 186.61 L240.58 186.88 L241.16 187.15 L241.75 187.40 L242.35 187.63 L242.95 187.86 L243.55 188.07 L244.17 188.27 L244.79 188.45 L245.41 188.63 L246.04 188.79 L246.67 188.95 L247.30 189.09 L247.94 189.23 L248.59 189.35 L249.23 189.47 L249.88 189.59 L250.53 189.69 L251.18 189.79 L251.84 189.89 L252.50 189.98 L253.15 190.06 L253.81 190.14 L254.47 190.22 L255.13 190.30 L255.79 190.37 L256.44 190.45 L257.10 190.52 L257.76 190.59 L258.42 190.67 L259.07 190.74 L259.73 190.81 L260.38 190.88 L261.04 190.94 L261.69 191.01 L262.35 191.08 L263.00 191.14 L263.65 191.21 L264.31 191.27 L264.96 191.33 L265.61 191.39 L266.27 191.45 L266.92 191.51 L267.57 191.57 L268.23 191.63 L268.88 191.68 L269.53 191.74 L270.19 191.79 L270.84 191.84 L271.49 191.89 L272.15 191.94 L272.80 191.99 L273.46 192.04 L274.11 192.09 L274.76 192.13 L275.42 192.18 L276.07 192.22 L276.73 192.26 L277.38 192.31 L278.04 192.35 L278.69 192.39 L279.35 192.43 L280.00 192.46 L280.66 192.50 L281.31 192.54 L281.97 192.57 L282.62 192.61 L283.28 192.64 L283.93 192.68 L284.59 192.71 L285.24 192.74 L285.90 192.77 L286.55 192.80 L287.21 192.83 L287.86 192.86 L288.52 192.89 L289.18 192.92 L289.83 192.95 L290.49 192.97 L291.14 193.00 L291.80 193.03 L292.45 193.05 L293.11 193.08 L293.77 193.10 L294.42 193.12 L295.08 193.15 L295.74 193.17 L296.39 193.19 L297.05 193.21 L297.70 193.23 L298.36 193.25 L299.02 193.27 L299.67 193.29 L300.33 193.31 L300.99 193.33 L301.64 193.35 L302.30 193.37 L302.96 193.39 L303.61 193.41 L304.27 193.42 L304.92 193.44 L305.58 193.46 L306.24 193.48 L306.89 193.49 L307.55 193.51 L308.21 193.53 L308.86 193.54 L309.52 193.56 L310.18 193.57 L310.83 193.59 L311.49 193.61 L312.15 193.62 L312.80 193.64 L313.46 193.65 L314.12 193.67 L314.77 193.68 L315.43 193.70 L316.09 193.72 L316.74 193.73 L317.40 193.75 L318.06 193.76 L318.71 193.78 L319.37 193.80 L320.03 193.81 L320.68 193.83 L321.34 193.85 L322.00 193.86 L322.65 193.88 L323.31 193.90 L323.97 193.91 L324.62 193.93 L325.28 193.95 L325.93 193.96 L326.59 193.98 L327.25 194.00 L327.90 194.02 L328.56 194.03 L329.22 194.05 L329.87 194.07 L330.53 194.09 L331.18 194.10 L331.84 194.12 L332.50 194.14 L333.15 194.16 L333.81 194.17 L334.47 194.19 L335.12 194.21 L335.78 194.23 L336.43 194.24 L337.09 194.26 L337.75 194.28 L338.40 194.30 L339.06 194.31 L339.72 194.33 L340.37 194.35 L341.03 194.37 L341.68 194.38 L342.34 194.40 L343.00 194.42 L343.65 194.43 L344.31 194.45 L344.96 194.47 L345.62 194.48 L346.28 194.50 L346.93 194.52 L347.59 194.53 L348.25 194.55 L348.90 194.56 L349.56 194.58 L350.21 194.59 L350.87 194.61 L351.53 194.62 L352.18 194.64 L352.84 194.65 L353.50 194.67 L354.15 194.68 L354.81 194.69 L355.46 194.71 L356.12 194.72 L356.78 194.73 L357.43 194.75 L358.09 194.76 L358.75 194.77 L359.40 194.78 L360.06 194.80 L360.72 194.81 L361.37 194.82 L362.03 194.83 L362.68 194.84 L363.34 194.85 L364.00 194.86 L364.65 194.87 L365.31 194.88 L365.97 194.89 L366.62 194.90 L367.28 194.90 L367.94 194.91 L368.59 194.92 L369.25 194.92 L369.91 194.93 L370.56 194.94 L371.22 194.94 L371.88 194.95 L372.53 194.95 L373.19 194.96 L373.85 194.96 L374.50 194.96 L375.16 194.97 L375.82 194.97 L376.47 194.97 L377.13 194.97 L377.79 194.98 L378.45 194.98 L379.10 194.98" fill="none" stroke="#151515" stroke-width="1.6"/>
<path d="M49.90 189.50 L50.54 189.49 L51.19 189.48 L51.83 189.46 L52.48 189.45 L53.12 189.44 L53.77 189.43 L54.41 189.42 L55.06 189.40 L55.70 189.39 L56.35 189.38 L56.99 189.36 L57.64 189.35 L58.28 189.34 L58.93 189.32 L59.57 189.31 L60.22 189.30 L60.86 189.28 L61.50 189.27 L62.15 189.26 L62.79 189.24 L63.44 189.23 L64.08 189.21 L64.73 189.20 L65.37 189.18 L66.02 189.17 L66.66 189.15 L67.31 189.14 L67.95 189.12 L68.59 189.10 L69.24 189.09 L69.88 189.07 L70.53 189.06 L71.17 189.04 L71.82 189.02 L72.46 189.01 L73.10 188.99 L73.75 188.97 L74.39 188.95 L75.04 188.94 L75.68 188.92 L76.33 188.90 L76.97 188.88 L77.62 188.87 L78.26 188.85 L78.90 188.83 L79.55 188.81 L80.19 188.79 L80.84 188.78 L81.48 188.76 L82.13 188.74 L82.77 188.72 L83.41 188.70 L84.06 188.68 L84.70 188.66 L85.35 188.64 L85.99 188.62 L86.63 188.60 L87.28 188.58 L87.92 188.56 L88.57 188.54 L89.21 188.52 L89.86 188.50 L90.50 188.48 L91.14 188.46 L91.79 188.44 L92.43 188.42 L93.08 188.40 L93.72 188.38 L94.37 188.36 L95.01 188.34 L95.65 188.31 L96.30 188.29 L96.94 188.27 L97.59 188.25 L98.23 188.23 L98.88 188.21 L99.52 188.18 L100.16 188.16 L100.81 188.14 L101.45 188.12 L102.10 188.09 L102.74 188.07 L103.39 188.05 L104.03 188.03 L104.67 188.00 L105.32 187.98 L105.96 187.96 L106.61 187.93 L107.25 187.91 L107.90 187.89 L108.54 187.86 L109.19 187.84 L109.83 187.82 L110.48 187.79 L111.12 187.77 L111.76 187.74 L112.41 187.72 L113.05 187.69 L113.70 187.67 L114.34 187.64 L114.99 187.62 L115.63 187.59 L116.28 187.56 L116.92 187.54 L117.56 187.51 L118.21 187.48 L118.85 187.46 L119.50 187.43 L120.14 187.40 L120.79 187.37 L121.43 187.34 L122.07 187.31 L122.72 187.28 L123.36 187.25 L124.01 187.22 L124.65 187.19 L125.30 187.16 L125.94 187.13 L126.58 187.10 L127.23 187.06 L127.87 187.03 L128.52 187.00 L129.16 186.96 L129.80 186.93 L130.45 186.89 L131.09 186.86 L131.73 186.82 L132.38 186.78 L133.02 186.74 L133.67 186.70 L134.31 186.67 L134.95 186.63 L135.60 186.59 L136.24 186.54 L136.88 186.50 L137.53 186.46 L138.17 186.42 L138.81 186.37 L139.45 186.33 L140.10 186.28 L140.74 186.24 L141.38 186.19 L142.03 186.14 L142.67 186.09 L143.31 186.05 L143.95 186.00 L144.60 185.95 L145.24 185.89 L145.88 185.84 L146.52 185.79 L147.16 185.73 L147.81 185.68 L148.45 185.62 L149.09 185.57 L149.73 185.51 L150.37 185.45 L151.01 185.39 L151.66 185.33 L152.30 185.27 L152.94 185.20 L153.58 185.14 L154.22 185.08 L154.86 185.01 L155.50 184.94 L156.14 184.88 L156.78 184.81 L157.42 184.74 L158.06 184.67 L158.70 184.60 L159.34 184.52 L159.98 184.45 L160.62 184.37 L161.26 184.30 L161.90 184.22 L162.54 184.14 L163.18 184.06 L163.82 183.98 L164.46 183.90 L165.10 183.81 L165.74 183.73 L166.38 183.64 L167.01 183.56 L167.65 183.47 L168.29 183.38 L168.93 183.29 L169.57 183.20 L170.20 183.10 L170.84 183.01 L171.48 182.91 L172.12 182.81 L172.76 182.71 L173.39 182.61 L174.03 182.51 L174.67 182.41 L175.31 182.31 L175.95 182.20 L176.59 182.09 L177.22 181.98 L177.86 181.87 L178.50 181.76 L179.14 181.65 L179.78 181.53 L180.42 181.42 L181.05 181.30 L181.69 181.17 L182.33 181.04 L182.96 180.91 L183.59 180.77 L184.22 180.63 L184.85 180.48 L185.48 180.33 L186.10 180.17 L186.72 180.00 L187.34 179.83 L187.95 179.65 L188.56 179.46 L189.17 179.26 L189.77 179.05 L190.37 178.83 L190.97 178.60 L191.56 178.37 L192.14 178.12 L192.72 177.87 L193.29 177.60 L193.86 177.33 L194.42 177.05 L194.98 176.75 L195.52 176.45 L196.07 176.14 L196.60 175.81 L197.13 175.48 L197.65 175.14 L198.16 174.78 L198.66 174.42 L199.16 174.05 L199.64 173.66 L200.12 173.27 L200.59 172.86 L201.05 172.45 L201.50 172.02 L201.94 171.59 L202.37 171.14 L202.78 170.68 L203.19 170.21 L203.59 169.73 L203.97 169.24 L204.35 168.74 L204.72 168.23 L205.07 167.70 L205.41 167.17 L205.75 166.63 L206.07 166.09 L206.39 165.53 L206.70 164.97 L206.99 164.39 L207.28 163.82 L207.56 163.23 L207.83 162.64 L208.09 162.04 L208.34 161.43 L208.59 160.82 L208.83 160.21 L209.06 159.59 L209.28 158.97 L209.49 158.34 L209.70 157.71 L209.90 157.07 L210.09 156.43 L210.28 155.79 L210.46 155.15 L210.63 154.50 L210.80 153.86 L210.96 153.21 L211.11 152.56 L211.26 151.91 L211.41 151.26 L211.54 150.61 L211.68 149.96 L211.81 149.31 L211.93 148.66 L212.05 148.01 L212.16 147.36 L212.27 146.71 L212.37 146.06 L212.47 145.41 L212.57 144.77 L212.66 144.12 L212.74 143.47 L212.82 142.82 L212.90 142.17 L212.97 141.52 L213.04 140.88 L213.11 140.23 L213.17 139.58 L213.23 138.93 L213.28 138.29 L213.33 137.64 L213.38 136.99 L213.42 136.35 L213.46 135.70 L213.49 135.05 L213.53 134.40 L213.56 133.76 L213.58 133.11 L213.61 132.47 L213.63 131.82 L213.64 131.17 L213.66 130.53 L213.67 129.88 L213.68 129.24 L213.69 128.59 L213.69 127.95 L213.70 127.30 L213.70 126.65 L213.69 126.01 L213.69 125.36 L213.68 124.72 L213.68 124.07 L213.67 123.43 L213.66 122.78 L213.64 122.14 L213.63 121.50 L213.61 120.85 L213.59 120.21 L213.58 119.56 L213.56 118.92 L213.53 118.27 L213.51 117.63 L213.49 116.99 L213.46 116.34 L213.44 115.70 L213.41 115.06 L213.39 114.41 L213.36 113.77 L213.33 113.12 L213.30 112.48 L213.28 111.84 L213.25 111.19 L213.22 110.55 L213.19 109.91 L213.16 109.26 L213.13 108.62 L213.10 107.98 L213.07 107.34 L213.05 106.69 L213.02 106.05 L212.99 105.41 L212.96 104.76 L212.94 104.12 L212.91 103.48 L212.89 102.84 L212.87 102.19 L212.84 101.55 L212.82 100.91 L212.80 100.27 L212.78 99.62 L212.76 98.98 L212.75 98.34 L212.73 97.70 L212.72 97.05 L212.71 96.41 L212.70 95.77 L212.69 95.13 L212.68 94.49 L212.68 93.84 L212.68 93.20 L212.68 92.56 L212.68 91.92 L212.69 91.28 L212.69 90.63 L212.70 89.99 L212.71 89.35 L212.73 88.71 L212.75 88.07 L212.77 87.42 L212.79 86.78 L212.82 86.14 L212.85 85.50 L212.88 84.86 L212.91 84.21 L212.95 83.57 L212.99 82.93 L213.04 82.29 L213.09 81.65 L213.14 81.00 L213.20 80.36 L213.26 79.72 L213.32 79.08 L213.39 78.44 L213.47 77.79 L213.54 77.15 L213.62 76.51 L213.71 75.87 L213.80 75.23 L213.89 74.58 L213.99 73.94 L214.09 73.30 L214.20 72.66 L214.31 72.02" fill="none" stroke="#ff0000" stroke-width="1.7" stroke-dasharray="5 2.1"/>
<path d="M214.70 71.98 L214.74 72.71 L214.79 73.45 L214.83 74.18 L214.87 74.91 L214.91 75.63 L214.95 76.36 L214.98 77.08 L215.02 77.80 L215.05 78.52 L215.08 79.24 L215.11 79.96 L215.13 80.67 L215.16 81.38 L215.18 82.09 L215.21 82.80 L215.23 83.51 L215.25 84.21 L215.27 84.92 L215.29 85.62 L215.30 86.32 L215.32 87.02 L215.33 87.72 L215.34 88.41 L215.35 89.11 L215.36 89.80 L215.37 90.49 L215.38 91.18 L215.39 91.87 L215.40 92.56 L215.40 93.25 L215.40 93.93 L215.41 94.62 L215.41 95.30 L215.41 95.98 L215.41 96.66 L215.41 97.34 L215.41 98.02 L215.41 98.70 L215.41 99.38 L215.41 100.05 L215.40 100.73 L215.40 101.40 L215.40 102.07 L215.39 102.74 L215.39 103.42 L215.38 104.09 L215.38 104.75 L215.37 105.42 L215.36 106.09 L215.36 106.76 L215.35 107.43 L215.34 108.09 L215.34 108.76 L215.33 109.42 L215.32 110.08 L215.31 110.75 L215.30 111.41 L215.30 112.07 L215.29 112.74 L215.28 113.40 L215.27 114.06 L215.27 114.72 L215.26 115.38 L215.25 116.04 L215.24 116.70 L215.24 117.36 L215.23 118.02 L215.23 118.68 L215.22 119.34 L215.21 120.00 L215.21 120.65 L215.20 121.31 L215.20 121.97 L215.20 122.63 L215.19 123.29 L215.19 123.95 L215.19 124.60 L215.19 125.26 L215.19 125.92 L215.19 126.58 L215.19 127.24 L215.19 127.90 L215.19 128.56 L215.20 129.22 L215.20 129.88 L215.21 130.54 L215.21 131.20 L215.22 131.86 L215.23 132.52 L215.24 133.18 L215.25 133.85 L215.26 134.51 L215.27 135.17 L215.29 135.83 L215.30 136.50 L215.32 137.16 L215.33 137.83 L215.35 138.50 L215.37 139.16 L215.39 139.83 L215.42 140.50 L215.44 141.17 L215.47 141.84 L215.50 142.51 L215.52 143.18 L215.55 143.85 L215.59 144.52 L215.62 145.20 L215.66 145.87 L215.69 146.55 L215.73 147.22 L215.77 147.90 L215.82 148.58 L215.86 149.26 L215.91 149.94 L215.95 150.63 L216.00 151.31 L216.06 151.99 L216.11 152.68 L216.17 153.37 L216.22 154.06 L216.28 154.74 L216.35 155.44 L216.41 156.13 L216.48 156.82 L216.55 157.52 L216.62 158.21 L216.69 158.91 L216.77 159.61 L216.85 160.31 L216.93 161.02 L217.01 161.72 L217.10 162.43 L217.18 163.14 L217.28 163.84 L217.37 164.56 L217.46 165.27 L217.56 165.98 L217.66 166.70 L217.77 167.42 L217.88 168.14 L217.99 168.86 L218.10 169.58 L218.23 170.30 L218.35 171.02 L218.49 171.73 L218.63 172.45 L218.78 173.16 L218.93 173.87 L219.10 174.58 L219.28 175.28 L219.46 175.98 L219.66 176.68 L219.87 177.37 L220.09 178.05 L220.32 178.73 L220.57 179.40 L220.83 180.06 L221.10 180.71 L221.39 181.36 L221.70 181.99 L222.02 182.62 L222.35 183.23 L222.70 183.83 L223.07 184.42 L223.45 184.99 L223.84 185.54 L224.26 186.07 L224.68 186.59 L225.12 187.08 L225.58 187.55 L226.05 188.00 L226.54 188.42 L227.04 188.82 L227.56 189.20 L228.09 189.55 L228.63 189.89 L229.18 190.20 L229.75 190.50 L230.33 190.78 L230.91 191.03 L231.51 191.28 L232.12 191.50 L232.74 191.72 L233.36 191.91 L233.99 192.09 L234.63 192.26 L235.28 192.42 L235.93 192.57 L236.59 192.70 L237.26 192.83 L237.92 192.95 L238.60 193.05 L239.27 193.16 L239.95 193.25 L240.63 193.34 L241.31 193.42 L242.00 193.50 L242.68 193.57 L243.36 193.64 L244.05 193.71 L244.73 193.78 L245.41 193.85 L246.10 193.91 L246.78 193.97 L247.46 194.03 L248.15 194.08 L248.83 194.14 L249.51 194.19 L250.20 194.24 L250.88 194.28 L251.56 194.33 L252.24 194.37 L252.93 194.42 L253.61 194.46 L254.29 194.50 L254.97 194.53 L255.65 194.57 L256.33 194.60 L257.02 194.64 L257.70 194.67 L258.38 194.70 L259.06 194.73 L259.74 194.76 L260.42 194.78 L261.10 194.81 L261.79 194.84 L262.47 194.86 L263.15 194.88 L263.83 194.91 L264.51 194.93 L265.19 194.95 L265.87 194.97 L266.55 194.99 L267.23 195.01 L267.92 195.03 L268.60 195.05 L269.28 195.06 L269.96 195.08 L270.64 195.10 L271.32 195.12 L272.00 195.13 L272.68 195.15 L273.37 195.17 L274.05 195.18 L274.73 195.20 L275.41 195.22 L276.09 195.23 L276.77 195.25 L277.45 195.26 L278.14 195.28 L278.82 195.29 L279.50 195.31 L280.18 195.32 L280.86 195.34 L281.54 195.35 L282.23 195.37 L282.91 195.38 L283.59 195.39 L284.27 195.41 L284.95 195.42 L285.63 195.43 L286.32 195.45 L287.00 195.46 L287.68 195.47 L288.36 195.49 L289.04 195.50 L289.72 195.51 L290.41 195.52 L291.09 195.53 L291.77 195.54 L292.45 195.56 L293.13 195.57 L293.82 195.58 L294.50 195.59 L295.18 195.60 L295.86 195.61 L296.54 195.62 L297.23 195.63 L297.91 195.64 L298.59 195.65 L299.27 195.66 L299.96 195.67 L300.64 195.68 L301.32 195.69 L302.00 195.70 L302.68 195.71 L303.37 195.72 L304.05 195.73 L304.73 195.73 L305.41 195.74 L306.09 195.75 L306.78 195.76 L307.46 195.77 L308.14 195.78 L308.82 195.78 L309.51 195.79 L310.19 195.80 L310.87 195.81 L311.55 195.81 L312.24 195.82 L312.92 195.83 L313.60 195.84 L314.28 195.84 L314.97 195.85 L315.65 195.86 L316.33 195.86 L317.01 195.87 L317.69 195.88 L318.38 195.88 L319.06 195.89 L319.74 195.90 L320.42 195.90 L321.11 195.91 L321.79 195.91 L322.47 195.92 L323.15 195.93 L323.84 195.93 L324.52 195.94 L325.20 195.94 L325.88 195.95 L326.57 195.95 L327.25 195.96 L327.93 195.96 L328.61 195.97 L329.30 195.98 L329.98 195.98 L330.66 195.99 L331.34 195.99 L332.03 196.00 L332.71 196.00 L333.39 196.00 L334.07 196.01 L334.76 196.01 L335.44 196.02 L336.12 196.02 L336.80 196.03 L337.49 196.03 L338.17 196.04 L338.85 196.04 L339.53 196.05 L340.22 196.05 L340.90 196.05 L341.58 196.06 L342.26 196.06 L342.94 196.07 L343.63 196.07 L344.31 196.08 L344.99 196.08 L345.67 196.08 L346.36 196.09 L347.04 196.09 L347.72 196.10 L348.40 196.10 L349.09 196.10 L349.77 196.11 L350.45 196.11 L351.13 196.12 L351.82 196.12 L352.50 196.12 L353.18 196.13 L353.86 196.13 L354.54 196.14 L355.23 196.14 L355.91 196.14 L356.59 196.15 L357.27 196.15 L357.96 196.16 L358.64 196.16 L359.32 196.16 L360.00 196.17 L360.68 196.17 L361.37 196.18 L362.05 196.18 L362.73 196.18 L363.41 196.19 L364.09 196.19 L364.78 196.20 L365.46 196.20 L366.14 196.21 L366.82 196.21 L367.50 196.21 L368.19 196.22 L368.87 196.22 L369.55 196.23 L370.23 196.23 L370.91 196.24 L371.60 196.24 L372.28 196.25 L372.96 196.25 L373.64 196.26 L374.32 196.26 L375.00 196.27 L375.69 196.27 L376.37 196.28 L377.05 196.28 L377.73 196.29 L378.41 196.29 L379.09 196.30" fill="none" stroke="#ff0000" stroke-width="1.7" stroke-dasharray="5 2.1"/>
<path d="M49.90 185.20 L63.60 184.60 L65.20 183.49 L65.91 183.43 L66.62 183.37 L67.34 183.32 L68.05 183.26 L68.76 183.20 L69.48 183.15 L70.19 183.09 L70.91 183.03 L71.62 182.98 L72.33 182.92 L73.05 182.86 L73.76 182.81 L74.47 182.75 L75.19 182.69 L75.90 182.63 L76.61 182.58 L77.33 182.52 L78.04 182.46 L78.75 182.40 L79.46 182.34 L80.18 182.28 L80.89 182.22 L81.60 182.16 L82.32 182.10 L83.03 182.04 L83.74 181.98 L84.46 181.92 L85.17 181.86 L85.88 181.80 L86.59 181.74 L87.31 181.67 L88.02 181.61 L88.73 181.55 L89.44 181.48 L90.16 181.42 L90.87 181.35 L91.58 181.29 L92.29 181.22 L93.00 181.16 L93.72 181.09 L94.43 181.02 L95.14 180.96 L95.85 180.89 L96.56 180.82 L97.28 180.75 L97.99 180.68 L98.70 180.61 L99.41 180.54 L100.12 180.47 L100.83 180.39 L101.55 180.32 L102.26 180.25 L102.97 180.17 L103.68 180.10 L104.39 180.02 L105.10 179.94 L105.81 179.86 L106.52 179.79 L107.23 179.71 L107.95 179.63 L108.66 179.55 L109.37 179.46 L110.08 179.38 L110.79 179.30 L111.50 179.21 L112.21 179.13 L112.92 179.04 L113.63 178.96 L114.34 178.87 L115.05 178.78 L115.76 178.69 L116.47 178.60 L117.18 178.51 L117.89 178.42 L118.60 178.32 L119.31 178.23 L120.02 178.13 L120.73 178.04 L121.44 177.94 L122.14 177.84 L122.85 177.74 L123.56 177.64 L124.27 177.54 L124.98 177.44 L125.69 177.33 L126.40 177.23 L127.11 177.12 L127.82 177.02 L128.52 176.91 L129.23 176.81 L129.94 176.70 L130.65 176.59 L131.36 176.49 L132.06 176.38 L132.77 176.27 L133.48 176.16 L134.19 176.05 L134.89 175.94 L135.60 175.82 L136.31 175.71 L137.01 175.59 L137.72 175.48 L138.42 175.36 L139.13 175.24 L139.83 175.12 L140.53 174.99 L141.24 174.87 L141.94 174.74 L142.64 174.61 L143.34 174.48 L144.04 174.34 L144.74 174.21 L145.44 174.07 L146.14 173.93 L146.84 173.78 L147.54 173.64 L148.23 173.49 L148.93 173.34 L149.63 173.18 L150.32 173.03 L151.02 172.87 L151.71 172.70 L152.41 172.54 L153.10 172.37 L153.79 172.19 L154.48 172.02 L155.18 171.84 L155.87 171.65 L156.56 171.47 L157.25 171.28 L157.94 171.08 L158.63 170.89 L159.31 170.68 L160.00 170.48 L160.69 170.27 L161.37 170.05 L162.06 169.84 L162.75 169.61 L163.43 169.39 L164.11 169.16 L164.80 168.92 L165.48 168.68 L166.16 168.44 L166.84 168.19 L167.52 167.94 L168.20 167.68 L168.87 167.42 L169.55 167.15 L170.22 166.87 L170.89 166.60 L171.55 166.32 L172.22 166.03 L172.88 165.74 L173.54 165.44 L174.20 165.14 L174.86 164.83 L175.51 164.51 L176.16 164.20 L176.80 163.87 L177.44 163.54 L178.08 163.21 L178.72 162.87 L179.35 162.52 L179.97 162.17 L180.60 161.81 L181.22 161.45 L181.83 161.08 L182.44 160.71 L183.05 160.33 L183.65 159.94 L184.25 159.55 L184.84 159.15 L185.42 158.75 L186.00 158.34 L186.58 157.92 L187.15 157.50 L187.71 157.07 L188.27 156.63 L188.82 156.19 L189.37 155.74 L189.91 155.29 L190.45 154.83 L190.97 154.36 L191.50 153.89 L192.01 153.41 L192.52 152.92 L193.02 152.43 L193.51 151.93 L194.00 151.42 L194.48 150.91 L194.95 150.39 L195.41 149.87 L195.87 149.34 L196.31 148.80 L196.75 148.26 L197.19 147.71 L197.61 147.15 L198.02 146.59 L198.43 146.03 L198.82 145.45 L199.21 144.87 L199.59 144.29 L199.96 143.70 L200.32 143.10 L200.67 142.50 L201.01 141.89 L201.35 141.28 L201.67 140.66 L201.99 140.03 L202.29 139.40 L202.59 138.77 L202.88 138.13 L203.17 137.49 L203.44 136.84 L203.71 136.19 L203.97 135.53 L204.23 134.87 L204.47 134.21 L204.71 133.54 L204.94 132.87 L205.17 132.19 L205.39 131.51 L205.60 130.83 L205.80 130.15 L206.00 129.46 L206.20 128.77 L206.39 128.08 L206.57 127.38 L206.75 126.68 L206.92 125.99 L207.08 125.28 L207.25 124.58 L207.40 123.88 L207.55 123.17 L207.70 122.46 L207.84 121.75 L207.98 121.04 L208.12 120.33 L208.25 119.62 L208.37 118.90 L208.49 118.19 L208.61 117.47 L208.73 116.76 L208.84 116.04 L208.95 115.32 L209.06 114.60 L209.16 113.88 L209.26 113.16 L209.36 112.44 L209.45 111.72 L209.54 111.00 L209.63 110.28 L209.72 109.56 L209.81 108.84 L209.89 108.12 L209.97 107.40 L210.05 106.68 L210.13 105.96 L210.21 105.24 L210.29 104.52 L210.37 103.80 L210.44 103.08 L210.51 102.37 L210.59 101.65 L210.66 100.93 L210.73 100.21 L210.80 99.50 L210.87 98.78 L210.94 98.07 L211.01 97.35 L211.08 96.63 L211.14 95.92 L211.21 95.20 L211.27 94.49 L211.33 93.78 L211.40 93.06 L211.46 92.35 L211.52 91.64 L211.58 90.92 L211.64 90.21 L211.69 89.50 L211.75 88.78 L211.80 88.07 L211.86 87.36 L211.91 86.65 L211.97 85.93 L212.02 85.22 L212.07 84.51 L212.12 83.80 L212.17 83.08 L212.22 82.37 L212.26 81.66 L212.31 80.95 L212.35 80.23 L212.40 79.52 L212.44 78.81 L212.48 78.10 L212.53 77.38 L212.57 76.67 L212.61 75.96 L212.65 75.25 L212.68 74.54 L212.72 73.82 L212.76 73.11 L212.79 72.40 L212.83 71.69 L212.86 70.97 L212.90 70.26 L212.93 69.55 L212.96 68.84 L212.99 68.13 L213.02 67.41 L213.05 66.70 L213.08 65.99 L213.11 65.28 L213.14 64.56 L213.17 63.85 L213.19 63.14 L213.22 62.43 L213.24 61.71 L213.27 61.00 L213.29 60.29 L213.31 59.58 L213.34 58.86 L213.36 58.15 L213.38 57.44 L213.40 56.73 L213.42 56.01 L213.44 55.30 L213.46 54.59 L213.48 53.87 L213.49 53.16 L213.51 52.45 L213.53 51.74 L213.54 51.02 L213.56 50.31 L213.57 49.60 L213.59 48.88 L213.60 48.17 L213.62 47.46 L213.63 46.74 L213.64 46.03 L213.65 45.32 L213.67 44.60 L213.68 43.89 L213.69 43.17 L213.70 42.46 L213.71 41.75 L213.72 41.03 L213.73 40.32 L213.74 39.60 L213.74 38.89 L213.75 38.18 L213.76 37.46 L213.77 36.75 L213.77 36.03 L213.78 35.32 L213.79 34.60 L213.79 33.89 L213.80 33.17 L213.80 32.46 L213.81 31.74 L213.81 31.03 L213.82 30.31 L213.82 29.60 L213.83 28.88 L213.83 28.16 L213.83 27.45 L213.84 26.73 L213.84 26.02 L213.84 25.30 L213.85 24.58 L213.85 23.87 L213.85 23.15 L213.85 22.43 L213.86 21.72 L213.86 21.00 L213.86 20.28 L213.86 19.57 L213.86 18.85 L213.86 18.13 L213.86 17.41 L213.87 16.69 L213.87 15.98 L213.87 15.26 L213.87 14.54 L213.87 13.82 L213.87 13.10 L213.87 12.38 L213.87 11.67 L213.87 10.95 L213.87 10.23 L213.87 9.51 L213.87 8.79 L213.87 8.07 L213.87 7.35 L213.88 6.63 L213.88 5.91 L213.88 5.19" fill="none" stroke="#0000ff" stroke-width="1.7"/>
<path d="M215.12 5.28 L215.12 6.10 L215.11 6.93 L215.11 7.75 L215.11 8.58 L215.11 9.41 L215.11 10.23 L215.10 11.06 L215.10 11.89 L215.10 12.72 L215.10 13.55 L215.10 14.39 L215.10 15.22 L215.09 16.05 L215.09 16.88 L215.09 17.72 L215.09 18.55 L215.09 19.39 L215.09 20.22 L215.09 21.06 L215.08 21.89 L215.08 22.73 L215.08 23.57 L215.08 24.40 L215.08 25.24 L215.08 26.08 L215.08 26.92 L215.08 27.76 L215.08 28.60 L215.08 29.44 L215.08 30.28 L215.08 31.12 L215.08 31.96 L215.08 32.81 L215.08 33.65 L215.08 34.49 L215.08 35.34 L215.08 36.18 L215.08 37.02 L215.08 37.87 L215.08 38.71 L215.08 39.56 L215.08 40.40 L215.08 41.25 L215.09 42.09 L215.09 42.94 L215.09 43.78 L215.09 44.63 L215.09 45.48 L215.10 46.32 L215.10 47.17 L215.10 48.02 L215.11 48.87 L215.11 49.71 L215.11 50.56 L215.12 51.41 L215.12 52.26 L215.12 53.11 L215.13 53.96 L215.13 54.80 L215.14 55.65 L215.14 56.50 L215.15 57.35 L215.16 58.20 L215.16 59.05 L215.17 59.90 L215.17 60.75 L215.18 61.60 L215.19 62.45 L215.19 63.30 L215.20 64.15 L215.21 64.99 L215.22 65.84 L215.23 66.69 L215.23 67.54 L215.24 68.39 L215.25 69.24 L215.26 70.09 L215.27 70.94 L215.28 71.79 L215.29 72.64 L215.30 73.49 L215.32 74.34 L215.33 75.18 L215.34 76.03 L215.35 76.88 L215.36 77.73 L215.38 78.58 L215.39 79.43 L215.40 80.27 L215.42 81.12 L215.43 81.97 L215.45 82.82 L215.46 83.66 L215.48 84.51 L215.49 85.36 L215.51 86.20 L215.53 87.05 L215.54 87.90 L215.56 88.74 L215.58 89.59 L215.60 90.43 L215.62 91.28 L215.63 92.12 L215.65 92.97 L215.67 93.81 L215.69 94.65 L215.72 95.50 L215.74 96.34 L215.76 97.18 L215.78 98.02 L215.80 98.86 L215.83 99.71 L215.85 100.55 L215.87 101.39 L215.90 102.23 L215.92 103.07 L215.95 103.91 L215.97 104.74 L216.00 105.58 L216.03 106.42 L216.06 107.26 L216.08 108.09 L216.11 108.93 L216.14 109.77 L216.17 110.60 L216.20 111.44 L216.23 112.27 L216.26 113.10 L216.29 113.94 L216.32 114.77 L216.36 115.60 L216.39 116.43 L216.42 117.26 L216.46 118.09 L216.49 118.92 L216.53 119.75 L216.56 120.58 L216.60 121.41 L216.64 122.23 L216.68 123.06 L216.71 123.88 L216.75 124.71 L216.79 125.53 L216.83 126.36 L216.87 127.18 L216.91 128.00 L216.96 128.82 L217.00 129.64 L217.04 130.47 L217.09 131.29 L217.14 132.11 L217.19 132.93 L217.23 133.75 L217.29 134.57 L217.34 135.39 L217.39 136.22 L217.45 137.04 L217.51 137.86 L217.57 138.69 L217.63 139.51 L217.69 140.34 L217.76 141.16 L217.83 141.99 L217.90 142.82 L217.97 143.65 L218.05 144.48 L218.12 145.31 L218.20 146.14 L218.29 146.98 L218.37 147.82 L218.46 148.65 L218.56 149.49 L218.65 150.34 L218.75 151.18 L218.85 152.03 L218.96 152.87 L219.06 153.72 L219.18 154.58 L219.29 155.43 L219.41 156.29 L219.53 157.15 L219.66 158.01 L219.79 158.88 L219.93 159.74 L220.07 160.62 L220.21 161.49 L220.36 162.36 L220.51 163.24 L220.67 164.12 L220.84 164.99 L221.01 165.87 L221.19 166.74 L221.39 167.62 L221.58 168.49 L221.79 169.35 L222.01 170.22 L222.24 171.08 L222.48 171.93 L222.73 172.78 L222.99 173.62 L223.27 174.46 L223.56 175.29 L223.86 176.11 L224.17 176.92 L224.50 177.73 L224.85 178.52 L225.21 179.31 L225.59 180.08 L225.98 180.84 L226.39 181.59 L226.82 182.33 L227.27 183.05 L227.73 183.75 L228.21 184.44 L228.70 185.12 L229.21 185.77 L229.74 186.40 L230.28 187.02 L230.84 187.61 L231.42 188.17 L232.01 188.72 L232.62 189.24 L233.24 189.74 L233.88 190.22 L234.52 190.68 L235.19 191.11 L235.86 191.53 L236.55 191.93 L237.25 192.31 L237.96 192.67 L238.68 193.02 L239.41 193.35 L240.16 193.66 L240.91 193.96 L241.67 194.24 L242.44 194.51 L243.21 194.77 L244.00 195.02 L244.79 195.25 L245.58 195.47 L246.39 195.68 L247.20 195.88 L248.01 196.07 L248.83 196.25 L249.65 196.42 L250.48 196.58 L251.31 196.74 L252.14 196.89 L252.98 197.04 L253.81 197.18 L254.65 197.31 L255.49 197.44 L256.33 197.57 L257.17 197.70 L258.01 197.82 L258.85 197.94 L259.69 198.05 L260.52 198.16 L261.36 198.27 L262.20 198.38 L263.04 198.49 L263.88 198.59 L264.72 198.69 L265.56 198.78 L266.40 198.88 L267.24 198.97 L268.08 199.06 L268.91 199.14 L269.75 199.23 L270.59 199.31 L271.43 199.39 L272.27 199.47 L273.11 199.54 L273.95 199.61 L274.79 199.68 L275.63 199.75 L276.47 199.82 L277.31 199.88 L278.15 199.94 L278.99 200.00 L279.83 200.06 L280.67 200.12 L281.51 200.17 L282.35 200.23 L283.18 200.28 L284.02 200.33 L284.86 200.38 L285.70 200.42 L286.54 200.47 L287.38 200.51 L288.22 200.55 L289.06 200.59 L289.90 200.63 L290.74 200.67 L291.58 200.71 L292.42 200.74 L293.26 200.78 L294.10 200.81 L294.94 200.84 L295.78 200.87 L296.62 200.90 L297.47 200.93 L298.31 200.96 L299.15 200.98 L299.99 201.01 L300.83 201.04 L301.67 201.06 L302.51 201.08 L303.35 201.11 L304.19 201.13 L305.03 201.15 L305.87 201.17 L306.71 201.19 L307.55 201.21 L308.39 201.23 L309.23 201.25 L310.08 201.27 L310.92 201.29 L311.76 201.31 L312.60 201.33 L313.44 201.34 L314.28 201.36 L315.12 201.38 L315.96 201.40 L316.81 201.42 L317.65 201.43 L318.49 201.45 L319.33 201.47 L320.17 201.48 L321.01 201.50 L321.86 201.52 L322.70 201.53 L323.54 201.55 L324.38 201.57 L325.22 201.58 L326.07 201.60 L326.91 201.62 L327.75 201.63 L328.59 201.65 L329.43 201.66 L330.28 201.68 L331.12 201.69 L331.96 201.71 L332.80 201.73 L333.64 201.74 L334.49 201.76 L335.33 201.77 L336.17 201.79 L337.01 201.80 L337.85 201.81 L338.70 201.83 L339.54 201.84 L340.38 201.86 L341.22 201.87 L342.07 201.89 L342.91 201.90 L343.75 201.91 L344.59 201.93 L345.43 201.94 L346.28 201.95 L347.12 201.97 L347.96 201.98 L348.80 201.99 L349.64 202.01 L350.49 202.02 L351.33 202.03 L352.17 202.04 L353.01 202.06 L353.85 202.07 L354.70 202.08 L355.54 202.09 L356.38 202.10 L357.22 202.12 L358.06 202.13 L358.91 202.14 L359.75 202.15 L360.59 202.16 L361.43 202.18 L362.27 202.19 L363.11 202.20 L363.96 202.21 L364.80 202.22 L365.64 202.23 L366.48 202.24 L367.32 202.25 L368.16 202.26 L369.00 202.27 L369.84 202.28 L370.69 202.29 L371.53 202.30 L372.37 202.31 L373.21 202.32 L374.05 202.33 L374.89 202.34 L375.73 202.35 L376.57 202.36 L377.41 202.37 L378.25 202.38 L379.09 202.39" fill="none" stroke="#0000ff" stroke-width="1.7"/>
<path d="M213.9 5.2 L213.5 40 L213.2 65 L212.9 74 L215.3 74 L215.15 60 L215.1 5.2 Z" fill="#0000ff" stroke="none"/>
<path d="M214.35 74 L214.5 128" fill="none" stroke="#ff0000" stroke-width="1.4" stroke-dasharray="5 2.1"/>
</g>
<g stroke="#000" stroke-opacity="0.48" stroke-width="1" fill="none">
<line x1="51" y1="5.5" x2="378" y2="5.5"/><line x1="51" y1="207.5" x2="378" y2="207.5"/>
<line x1="51.5" y1="5" x2="51.5" y2="208"/><line x1="377.5" y1="5" x2="377.5" y2="208"/>
</g>
<g stroke="#000" stroke-opacity="0.75" stroke-width="0.6" fill="none">
<line x1="51.50" y1="207.50" x2="51.50" y2="204.80"/>
<line x1="51.50" y1="5.50" x2="51.50" y2="8.20"/>
<line x1="59.65" y1="207.50" x2="59.65" y2="205.70"/>
<line x1="59.65" y1="5.50" x2="59.65" y2="7.30"/>
<line x1="67.80" y1="207.50" x2="67.80" y2="205.70"/>
<line x1="67.80" y1="5.50" x2="67.80" y2="7.30"/>
<line x1="75.95" y1="207.50" x2="75.95" y2="205.70"/>
<line x1="75.95" y1="5.50" x2="75.95" y2="7.30"/>
<line x1="84.10" y1="207.50" x2="84.10" y2="205.70"/>
<line x1="84.10" y1="5.50" x2="84.10" y2="7.30"/>
<line x1="92.25" y1="207.50" x2="92.25" y2="204.80"/>
<line x1="92.25" y1="5.50" x2="92.25" y2="8.20"/>
<line x1="100.40" y1="207.50" x2="100.40" y2="205.70"/>
<line x1="100.40" y1="5.50" x2="100.40" y2="7.30"/>
<line x1="108.55" y1="207.50" x2="108.55" y2="205.70"/>
<line x1="108.55" y1="5.50" x2="108.55" y2="7.30"/>
<line x1="116.70" y1="207.50" x2="116.70" y2="205.70"/>
<line x1="116.70" y1="5.50" x2="116.70" y2="7.30"/>
<line x1="124.85" y1="207.50" x2="124.85" y2="205.70"/>
<line x1="124.85" y1="5.50" x2="124.85" y2="7.30"/>
<line x1="133.00" y1="207.50" x2="133.00" y2="204.80"/>
<line x1="133.00" y1="5.50" x2="133.00" y2="8.20"/>
<line x1="141.15" y1="207.50" x2="141.15" y2="205.70"/>
<line x1="141.15" y1="5.50" x2="141.15" y2="7.30"/>
<line x1="149.30" y1="207.50" x2="149.30" y2="205.70"/>
<line x1="149.30" y1="5.50" x2="149.30" y2="7.30"/>
<line x1="157.45" y1="207.50" x2="157.45" y2="205.70"/>
<line x1="157.45" y1="5.50" x2="157.45" y2="7.30"/>
<line x1="165.60" y1="207.50" x2="165.60" y2="205.70"/>
<line x1="165.60" y1="5.50" x2="165.60" y2="7.30"/>
<line x1="173.75" y1="207.50" x2="173.75" y2="204.80"/>
<line x1="173.75" y1="5.50" x2="173.75" y2="8.20"/>
<line x1="181.90" y1="207.50" x2="181.90" y2="205.70"/>
<line x1="181.90" y1="5.50" x2="181.90" y2="7.30"/>
<line x1="190.05" y1="207.50" x2="190.05" y2="205.70"/>
<line x1="190.05" y1="5.50" x2="190.05" y2="7.30"/>
<line x1="198.20" y1="207.50" x2="198.20" y2="205.70"/>
<line x1="198.20" y1="5.50" x2="198.20" y2="7.30"/>
<line x1="206.35" y1="207.50" x2="206.35" y2="205.70"/>
<line x1="206.35" y1="5.50" x2="206.35" y2="7.30"/>
<line x1="214.50" y1="207.50" x2="214.50" y2="204.80"/>
<line x1="214.50" y1="5.50" x2="214.50" y2="8.20"/>
<line x1="222.65" y1="207.50" x2="222.65" y2="205.70"/>
<line x1="222.65" y1="5.50" x2="222.65" y2="7.30"/>
<line x1="230.80" y1="207.50" x2="230.80" y2="205.70"/>
<line x1="230.80" y1="5.50" x2="230.80" y2="7.30"/>
<line x1="238.95" y1="207.50" x2="238.95" y2="205.70"/>
<line x1="238.95" y1="5.50" x2="238.95" y2="7.30"/>
<line x1="247.10" y1="207.50" x2="247.10" y2="205.70"/>
<line x1="247.10" y1="5.50" x2="247.10" y2="7.30"/>
<line x1="255.25" y1="207.50" x2="255.25" y2="204.80"/>
<line x1="255.25" y1="5.50" x2="255.25" y2="8.20"/>
<line x1="263.40" y1="207.50" x2="263.40" y2="205.70"/>
<line x1="263.40" y1="5.50" x2="263.40" y2="7.30"/>
<line x1="271.55" y1="207.50" x2="271.55" y2="205.70"/>
<line x1="271.55" y1="5.50" x2="271.55" y2="7.30"/>
<line x1="279.70" y1="207.50" x2="279.70" y2="205.70"/>
<line x1="279.70" y1="5.50" x2="279.70" y2="7.30"/>
<line x1="287.85" y1="207.50" x2="287.85" y2="205.70"/>
<line x1="287.85" y1="5.50" x2="287.85" y2="7.30"/>
<line x1="296.00" y1="207.50" x2="296.00" y2="204.80"/>
<line x1="296.00" y1="5.50" x2="296.00" y2="8.20"/>
<line x1="304.15" y1="207.50" x2="304.15" y2="205.70"/>
<line x1="304.15" y1="5.50" x2="304.15" y2="7.30"/>
<line x1="312.30" y1="207.50" x2="312.30" y2="205.70"/>
<line x1="312.30" y1="5.50" x2="312.30" y2="7.30"/>
<line x1="320.45" y1="207.50" x2="320.45" y2="205.70"/>
<line x1="320.45" y1="5.50" x2="320.45" y2="7.30"/>
<line x1="328.60" y1="207.50" x2="328.60" y2="205.70"/>
<line x1="328.60" y1="5.50" x2="328.60" y2="7.30"/>
<line x1="336.75" y1="207.50" x2="336.75" y2="204.80"/>
<line x1="336.75" y1="5.50" x2="336.75" y2="8.20"/>
<line x1="344.90" y1="207.50" x2="344.90" y2="205.70"/>
<line x1="344.90" y1="5.50" x2="344.90" y2="7.30"/>
<line x1="353.05" y1="207.50" x2="353.05" y2="205.70"/>
<line x1="353.05" y1="5.50" x2="353.05" y2="7.30"/>
<line x1="361.20" y1="207.50" x2="361.20" y2="205.70"/>
<line x1="361.20" y1="5.50" x2="361.20" y2="7.30"/>
<line x1="369.35" y1="207.50" x2="369.35" y2="205.70"/>
<line x1="369.35" y1="5.50" x2="369.35" y2="7.30"/>
<line x1="377.50" y1="207.50" x2="377.50" y2="204.80"/>
<line x1="377.50" y1="5.50" x2="377.50" y2="8.20"/>
<line x1="51.50" y1="204.11" x2="53.30" y2="204.11"/>
<line x1="377.50" y1="204.11" x2="375.70" y2="204.11"/>
<line x1="51.50" y1="197.91" x2="53.30" y2="197.91"/>
<line x1="377.50" y1="197.91" x2="375.70" y2="197.91"/>
<line x1="51.50" y1="191.70" x2="54.20" y2="191.70"/>
<line x1="377.50" y1="191.70" x2="374.80" y2="191.70"/>
<line x1="51.50" y1="185.49" x2="53.30" y2="185.49"/>
<line x1="377.50" y1="185.49" x2="375.70" y2="185.49"/>
<line x1="51.50" y1="179.29" x2="53.30" y2="179.29"/>
<line x1="377.50" y1="179.29" x2="375.70" y2="179.29"/>
<line x1="51.50" y1="173.08" x2="53.30" y2="173.08"/>
<line x1="377.50" y1="173.08" x2="375.70" y2="173.08"/>
<line x1="51.50" y1="166.88" x2="53.30" y2="166.88"/>
<line x1="377.50" y1="166.88" x2="375.70" y2="166.88"/>
<line x1="51.50" y1="160.67" x2="54.20" y2="160.67"/>
<line x1="377.50" y1="160.67" x2="374.80" y2="160.67"/>
<line x1="51.50" y1="154.46" x2="53.30" y2="154.46"/>
<line x1="377.50" y1="154.46" x2="375.70" y2="154.46"/>
<line x1="51.50" y1="148.26" x2="53.30" y2="148.26"/>
<line x1="377.50" y1="148.26" x2="375.70" y2="148.26"/>
<line x1="51.50" y1="142.05" x2="53.30" y2="142.05"/>
<line x1="377.50" y1="142.05" x2="375.70" y2="142.05"/>
<line x1="51.50" y1="135.85" x2="53.30" y2="135.85"/>
<line x1="377.50" y1="135.85" x2="375.70" y2="135.85"/>
<line x1="51.50" y1="129.64" x2="54.20" y2="129.64"/>
<line x1="377.50" y1="129.64" x2="374.80" y2="129.64"/>
<line x1="51.50" y1="123.43" x2="53.30" y2="123.43"/>
<line x1="377.50" y1="123.43" x2="375.70" y2="123.43"/>
<line x1="51.50" y1="117.23" x2="53.30" y2="117.23"/>
<line x1="377.50" y1="117.23" x2="375.70" y2="117.23"/>
<line x1="51.50" y1="111.02" x2="53.30" y2="111.02"/>
<line x1="377.50" y1="111.02" x2="375.70" y2="111.02"/>
<line x1="51.50" y1="104.82" x2="53.30" y2="104.82"/>
<line x1="377.50" y1="104.82" x2="375.70" y2="104.82"/>
<line x1="51.50" y1="98.61" x2="54.20" y2="98.61"/>
<line x1="377.50" y1="98.61" x2="374.80" y2="98.61"/>
<line x1="51.50" y1="92.40" x2="53.30" y2="92.40"/>
<line x1="377.50" y1="92.40" x2="375.70" y2="92.40"/>
<line x1="51.50" y1="86.20" x2="53.30" y2="86.20"/>
<line x1="377.50" y1="86.20" x2="375.70" y2="86.20"/>
<line x1="51.50" y1="79.99" x2="53.30" y2="79.99"/>
<line x1="377.50" y1="79.99" x2="375.70" y2="79.99"/>
<line x1="51.50" y1="73.79" x2="53.30" y2="73.79"/>
<line x1="377.50" y1="73.79" x2="375.70" y2="73.79"/>
<line x1="51.50" y1="67.58" x2="54.20" y2="67.58"/>
<line x1="377.50" y1="67.58" x2="374.80" y2="67.58"/>
<line x1="51.50" y1="61.37" x2="53.30" y2="61.37"/>
<line x1="377.50" y1="61.37" x2="375.70" y2="61.37"/>
<line x1="51.50" y1="55.17" x2="53.30" y2="55.17"/>
<line x1="377.50" y1="55.17" x2="375.70" y2="55.17"/>
<line x1="51.50" y1="48.96" x2="53.30" y2="48.96"/>
<line x1="377.50" y1="48.96" x2="375.70" y2="48.96"/>
<line x1="51.50" y1="42.76" x2="53.30" y2="42.76"/>
<line x1="377.50" y1="42.76" x2="375.70" y2="42.76"/>
<line x1="51.50" y1="36.55" x2="54.20" y2="36.55"/>
<line x1="377.50" y1="36.55" x2="374.80" y2="36.55"/>
<line x1="51.50" y1="30.34" x2="53.30" y2="30.34"/>
<line x1="377.50" y1="30.34" x2="375.70" y2="30.34"/>
<line x1="51.50" y1="24.14" x2="53.30" y2="24.14"/>
<line x1="377.50" y1="24.14" x2="375.70" y2="24.14"/>
<line x1="51.50" y1="17.93" x2="53.30" y2="17.93"/>
<line x1="377.50" y1="17.93" x2="375.70" y2="17.93"/>
<line x1="51.50" y1="11.73" x2="53.30" y2="11.73"/>
<line x1="377.50" y1="11.73" x2="375.70" y2="11.73"/>
<line x1="51.50" y1="5.52" x2="54.20" y2="5.52"/>
<line x1="377.50" y1="5.52" x2="374.80" y2="5.52"/>
</g>
<g font-size="13.6" fill="#111">
<text x="51.70" y="222.9" text-anchor="middle">0.6</text>
<text x="92.45" y="222.9" text-anchor="middle">0.7</text>
<text x="133.20" y="222.9" text-anchor="middle">0.8</text>
<text x="173.95" y="222.9" text-anchor="middle">0.9</text>
<text x="214.70" y="222.9" text-anchor="middle">1.0</text>
<text x="255.45" y="222.9" text-anchor="middle">1.1</text>
<text x="296.20" y="222.9" text-anchor="middle">1.2</text>
<text x="336.95" y="222.9" text-anchor="middle">1.3</text>
<text x="377.70" y="222.9" text-anchor="middle">1.4</text>
<text x="48.8" y="196.80" text-anchor="end">0</text>
<text x="48.8" y="165.77" text-anchor="end">1</text>
<text x="48.8" y="134.74" text-anchor="end">2</text>
<text x="48.8" y="103.71" text-anchor="end">3</text>
<text x="48.8" y="72.68" text-anchor="end">4</text>
<text x="48.8" y="41.65" text-anchor="end">5</text>
<text x="48.8" y="10.62" text-anchor="end">6</text>
</g>
<g>
<line x1="61.60" y1="19.10" x2="110.60" y2="19.10" stroke="#00aa00" stroke-width="1.6" stroke-dasharray="1.6 2.9 5 2.3"/>
<text x="113.70" y="25.30" fill="#ff0000" font-size="14">EoF</text>
<line x1="63.20" y1="34.40" x2="110.60" y2="34.40" stroke="#0000ff" stroke-width="1.7" stroke-dasharray="2.3 2.2"/>
<text x="114.20" y="39.60" fill="#ff0000" font-size="14">QD</text>
<line x1="63.50" y1="51.90" x2="111.20" y2="51.90" stroke="#ff1a1a" stroke-width="1.6" stroke-dasharray="5 2.1"/>
<text x="114.30" y="57.20" fill="#ff0000" font-size="14">CC</text>
<line x1="63.10" y1="67.80" x2="112.00" y2="67.80" stroke="#2a2a2a" stroke-width="1.7"/>
<text x="114.80" y="74.20" fill="#ff0000" font-size="14">MID</text>
<line x1="63.10" y1="85.50" x2="113.30" y2="85.50" stroke="#1010ff" stroke-width="1.7"/>
<text x="112.90" y="91.50" fill="#ff0000" font-size="14">CHSH</text>
</g>
<text x="303.5" y="46" fill="#ff0000" font-size="15.8">(b) <tspan font-style="italic">α</tspan>=1.0</text>
<text x="214.3" y="244.8" fill="#1a1aff" stroke="#1a1aff" stroke-width="0.3" font-size="15" text-anchor="middle">λ</text>
<g fill="#1a1aff" stroke="#1a1aff" stroke-width="0.3" font-size="15">
<text transform="translate(11.2,107) rotate(-90)" text-anchor="middle" font-style="italic">d</text>
<rect x="16.8" y="99.5" width="1.5" height="15.8" stroke="none"/>
<text transform="translate(34.8,106) rotate(-90)" text-anchor="middle">dλ</text>
</g>
</svg>
</body></html>
